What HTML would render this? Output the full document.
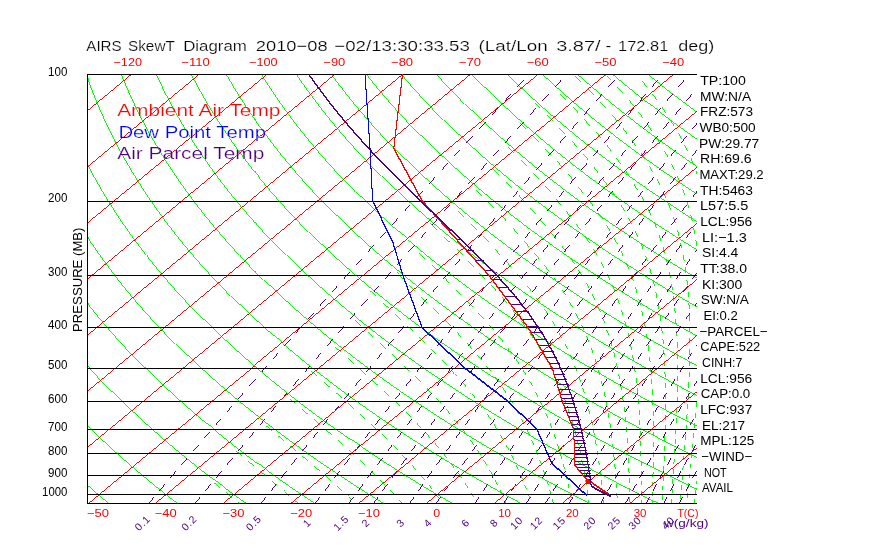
<!DOCTYPE html>
<html><head><meta charset="utf-8"><title>AIRS SkewT Diagram</title>
<style>html,body{margin:0;padding:0;background:#fff;}svg{display:block;will-change:transform;}</style></head>
<body><svg width="870" height="560" viewBox="0 0 870 560">
<defs><clipPath id="clip"><rect x="87" y="74" width="610" height="430"/></clipPath>
<clipPath id="clip2"><rect x="87" y="74" width="610" height="430"/></clipPath></defs>
<g clip-path="url(#clip)" shape-rendering="crispEdges">
<polyline points="108.75,503.5 99.3,495.5 90.09,487.5 81.11,479.5 72.37,471.5 63.85,463.5 55.57,455.5 47.5,447.5 39.66,439.5 32.03,431.5 24.62,423.5 17.43,415.5 10.44,407.5 3.66,399.5 -2.91,391.5 -9.29,383.5 -15.46,375.5 -21.43,367.5 -27.21,359.5 -32.8,351.5 -38.2,343.5 -43.41,335.5 -48.43,327.5 -53.27,319.5 -57.93,311.5 -62.42,303.5 -66.72,295.5 -70.85,287.5 -74.81,279.5 -78.6,271.5 -82.22,263.5 -85.68,255.5 -88.97,247.5 -92.11,239.5 -95.08,231.5 -97.89,223.5 -100.55,215.5 -103.06,207.5 -105.41,199.5 -107.61,191.5 -109.67,183.5 -111.58,175.5 -113.35,167.5 -114.97,159.5 -116.45,151.5 -117.8,143.5 -119,135.5 -120.08,127.5 -121.01,119.5 -121.82,111.5 -122.49,103.5 -123.04,95.5 -123.46,87.5 -123.75,79.5 -123.87,74.5" fill="none" stroke="#00ff00" stroke-width="0.99" />
<polyline points="177.48,503.5 167.17,495.5 157.12,487.5 147.3,479.5 137.74,471.5 128.41,463.5 119.31,455.5 110.46,447.5 101.83,439.5 93.43,431.5 85.25,423.5 77.3,415.5 69.57,407.5 62.05,399.5 54.75,391.5 47.66,383.5 40.78,375.5 34.1,367.5 27.63,359.5 21.36,351.5 15.29,343.5 9.41,335.5 3.73,327.5 -1.76,319.5 -7.07,311.5 -12.18,303.5 -17.11,295.5 -21.86,287.5 -26.43,279.5 -30.83,271.5 -35.04,263.5 -39.09,255.5 -42.96,247.5 -46.67,239.5 -50.21,231.5 -53.58,223.5 -56.79,215.5 -59.84,207.5 -62.73,199.5 -65.47,191.5 -68.05,183.5 -70.48,175.5 -72.76,167.5 -74.89,159.5 -76.87,151.5 -78.71,143.5 -80.4,135.5 -81.95,127.5 -83.37,119.5 -84.64,111.5 -85.78,103.5 -86.78,95.5 -87.65,87.5 -88.39,79.5 -88.79,74.5" fill="none" stroke="#00ff00" stroke-width="0.99" />
<polyline points="246.21,503.5 235.05,495.5 224.14,487.5 213.5,479.5 203.1,471.5 192.96,463.5 183.06,455.5 173.41,447.5 164,439.5 154.82,431.5 145.88,423.5 137.17,415.5 128.7,407.5 120.44,399.5 112.41,391.5 104.6,383.5 97.01,375.5 89.64,367.5 82.47,359.5 75.52,351.5 68.77,343.5 62.23,335.5 55.89,327.5 49.75,319.5 43.8,311.5 38.05,303.5 32.49,295.5 27.13,287.5 21.94,279.5 16.95,271.5 12.14,263.5 7.5,255.5 3.05,247.5 -1.23,239.5 -5.33,231.5 -9.27,223.5 -13.03,215.5 -16.63,207.5 -20.06,199.5 -23.33,191.5 -26.43,183.5 -29.38,175.5 -32.17,167.5 -34.81,159.5 -37.29,151.5 -39.62,143.5 -41.8,135.5 -43.83,127.5 -45.72,119.5 -47.46,111.5 -49.07,103.5 -50.53,95.5 -51.85,87.5 -53.03,79.5 -53.71,74.5" fill="none" stroke="#00ff00" stroke-width="0.99" />
<polyline points="314.94,503.5 302.92,495.5 291.17,487.5 279.69,479.5 268.47,471.5 257.51,463.5 246.81,455.5 236.36,447.5 226.17,439.5 216.22,431.5 206.51,423.5 197.05,415.5 187.82,407.5 178.83,399.5 170.08,391.5 161.55,383.5 153.25,375.5 145.17,367.5 137.31,359.5 129.68,351.5 122.25,343.5 115.04,335.5 108.05,327.5 101.25,319.5 94.67,311.5 88.28,303.5 82.1,295.5 76.11,287.5 70.32,279.5 64.72,271.5 59.32,263.5 54.1,255.5 49.06,247.5 44.21,239.5 39.54,231.5 35.05,223.5 30.73,215.5 26.59,207.5 22.62,199.5 18.82,191.5 15.19,183.5 11.72,175.5 8.42,167.5 5.28,159.5 2.3,151.5 -0.53,143.5 -3.2,135.5 -5.71,127.5 -8.07,119.5 -10.29,111.5 -12.35,103.5 -14.27,95.5 -16.04,87.5 -17.68,79.5 -18.62,74.5" fill="none" stroke="#00ff00" stroke-width="0.99" />
<polyline points="383.67,503.5 370.79,495.5 358.2,487.5 345.88,479.5 333.84,471.5 322.07,463.5 310.56,455.5 299.32,447.5 288.34,439.5 277.61,431.5 267.14,423.5 256.92,415.5 246.95,407.5 237.22,399.5 227.74,391.5 218.49,383.5 209.48,375.5 200.7,367.5 192.16,359.5 183.83,351.5 175.74,343.5 167.86,335.5 160.2,327.5 152.76,319.5 145.53,311.5 138.52,303.5 131.71,295.5 125.1,287.5 118.7,279.5 112.5,271.5 106.5,263.5 100.69,255.5 95.07,247.5 89.65,239.5 84.41,231.5 79.36,223.5 74.49,215.5 69.8,207.5 65.29,199.5 60.96,191.5 56.81,183.5 52.82,175.5 49.01,167.5 45.36,159.5 41.88,151.5 38.56,143.5 35.41,135.5 32.41,127.5 29.57,119.5 26.89,111.5 24.36,103.5 21.99,95.5 19.76,87.5 17.68,79.5 16.46,74.5" fill="none" stroke="#00ff00" stroke-width="0.99" />
<polyline points="452.4,503.5 438.67,495.5 425.23,487.5 412.07,479.5 399.21,471.5 386.62,463.5 374.31,455.5 362.27,447.5 350.51,439.5 339.01,431.5 327.77,423.5 316.8,415.5 306.08,407.5 295.61,399.5 285.4,391.5 275.44,383.5 265.72,375.5 256.24,367.5 247,359.5 237.99,351.5 229.22,343.5 220.68,335.5 212.36,327.5 204.27,319.5 196.4,311.5 188.75,303.5 181.31,295.5 174.09,287.5 167.08,279.5 160.28,271.5 153.68,263.5 147.28,255.5 141.08,247.5 135.08,239.5 129.28,231.5 123.67,223.5 118.25,215.5 113.02,207.5 107.97,199.5 103.11,191.5 98.43,183.5 93.92,175.5 89.59,167.5 85.44,159.5 81.46,151.5 77.65,143.5 74.01,135.5 70.53,127.5 67.22,119.5 64.07,111.5 61.08,103.5 58.24,95.5 55.57,87.5 53.04,79.5 51.54,74.5" fill="none" stroke="#00ff00" stroke-width="0.99" />
<polyline points="521.13,503.5 506.54,495.5 492.25,487.5 478.27,479.5 464.57,471.5 451.17,463.5 438.06,455.5 425.23,447.5 412.67,439.5 400.4,431.5 388.4,423.5 376.67,415.5 365.21,407.5 354.01,399.5 343.07,391.5 332.38,383.5 321.95,375.5 311.77,367.5 301.84,359.5 292.15,351.5 282.7,343.5 273.5,335.5 264.52,327.5 255.78,319.5 247.27,311.5 238.98,303.5 230.92,295.5 223.08,287.5 215.46,279.5 208.05,271.5 200.86,263.5 193.87,255.5 187.09,247.5 180.52,239.5 174.15,231.5 167.98,223.5 162.01,215.5 156.23,207.5 150.65,199.5 145.25,191.5 140.04,183.5 135.02,175.5 130.18,167.5 125.52,159.5 121.04,151.5 116.74,143.5 112.61,135.5 108.65,127.5 104.87,119.5 101.25,111.5 97.79,103.5 94.5,95.5 91.37,87.5 88.4,79.5 86.62,74.5" fill="none" stroke="#00ff00" stroke-width="0.99" />
<polyline points="589.86,503.5 574.42,495.5 559.28,487.5 544.46,479.5 529.94,471.5 515.72,463.5 501.8,455.5 488.18,447.5 474.84,439.5 461.8,431.5 449.03,423.5 436.54,415.5 424.33,407.5 412.4,399.5 400.73,391.5 389.33,383.5 378.19,375.5 367.31,367.5 356.68,359.5 346.31,351.5 336.19,343.5 326.31,335.5 316.68,327.5 307.29,319.5 298.14,311.5 289.22,303.5 280.53,295.5 272.07,287.5 263.84,279.5 255.83,271.5 248.04,263.5 240.46,255.5 233.11,247.5 225.96,239.5 219.02,231.5 212.3,223.5 205.77,215.5 199.45,207.5 193.32,199.5 187.4,191.5 181.66,183.5 176.12,175.5 170.77,167.5 165.61,159.5 160.63,151.5 155.83,143.5 151.21,135.5 146.78,127.5 142.51,119.5 138.42,111.5 134.5,103.5 130.76,95.5 127.17,87.5 123.76,79.5 121.71,74.5" fill="none" stroke="#00ff00" stroke-width="0.99" />
<polyline points="658.59,503.5 642.29,495.5 626.31,487.5 610.65,479.5 595.31,471.5 580.28,463.5 565.55,455.5 551.13,447.5 537.01,439.5 523.19,431.5 509.66,423.5 496.42,415.5 483.46,407.5 470.79,399.5 458.39,391.5 446.27,383.5 434.42,375.5 422.84,367.5 411.52,359.5 400.47,351.5 389.67,343.5 379.13,335.5 368.84,327.5 358.8,319.5 349,311.5 339.45,303.5 330.14,295.5 321.06,287.5 312.21,279.5 303.6,271.5 295.22,263.5 287.06,255.5 279.12,247.5 271.4,239.5 263.9,231.5 256.61,223.5 249.53,215.5 242.66,207.5 236,199.5 229.54,191.5 223.28,183.5 217.22,175.5 211.36,167.5 205.69,159.5 200.21,151.5 194.92,143.5 189.82,135.5 184.9,127.5 180.16,119.5 175.6,111.5 171.22,103.5 167.01,95.5 162.98,87.5 159.12,79.5 156.79,74.5" fill="none" stroke="#00ff00" stroke-width="0.99" />
<polyline points="727.32,503.5 710.16,495.5 693.34,487.5 676.84,479.5 660.68,471.5 644.83,463.5 629.3,455.5 614.09,447.5 599.18,439.5 584.58,431.5 570.29,423.5 556.29,415.5 542.59,407.5 529.18,399.5 516.06,391.5 503.22,383.5 490.66,375.5 478.37,367.5 466.37,359.5 454.63,351.5 443.16,343.5 431.95,335.5 421,327.5 410.31,319.5 399.87,311.5 389.68,303.5 379.74,295.5 370.05,287.5 360.59,279.5 351.38,271.5 342.4,263.5 333.65,255.5 325.13,247.5 316.84,239.5 308.77,231.5 300.92,223.5 293.29,215.5 285.88,207.5 278.68,199.5 271.69,191.5 264.9,183.5 258.32,175.5 251.95,167.5 245.77,159.5 239.79,151.5 234.01,143.5 228.42,135.5 223.02,127.5 217.81,119.5 212.78,111.5 207.93,103.5 203.27,95.5 198.78,87.5 194.47,79.5 191.87,74.5" fill="none" stroke="#00ff00" stroke-width="0.99" />
<polyline points="796.05,503.5 778.04,495.5 760.37,487.5 743.04,479.5 726.04,471.5 709.38,463.5 693.05,455.5 677.04,447.5 661.35,439.5 645.98,431.5 630.92,423.5 616.17,415.5 601.72,407.5 587.57,399.5 573.72,391.5 560.16,383.5 546.89,375.5 533.91,367.5 521.21,359.5 508.79,351.5 496.64,343.5 484.76,335.5 473.16,327.5 461.82,319.5 450.74,311.5 439.92,303.5 429.35,295.5 419.04,287.5 408.97,279.5 399.15,271.5 389.58,263.5 380.24,255.5 371.14,247.5 362.27,239.5 353.64,231.5 345.23,223.5 337.05,215.5 329.09,207.5 321.35,199.5 313.83,191.5 306.52,183.5 299.43,175.5 292.54,167.5 285.86,159.5 279.38,151.5 273.1,143.5 267.02,135.5 261.14,127.5 255.45,119.5 249.95,111.5 244.65,103.5 239.53,95.5 234.59,87.5 229.83,79.5 226.95,74.5" fill="none" stroke="#00ff00" stroke-width="0.99" />
<polyline points="864.78,503.5 845.91,495.5 827.39,487.5 809.23,479.5 791.41,471.5 773.94,463.5 756.8,455.5 740,447.5 723.52,439.5 707.37,431.5 691.55,423.5 676.04,415.5 660.85,407.5 645.96,399.5 631.38,391.5 617.11,383.5 603.13,375.5 589.44,367.5 576.05,359.5 562.94,351.5 550.12,343.5 537.58,335.5 525.32,327.5 513.33,319.5 501.6,311.5 490.15,303.5 478.96,295.5 468.02,287.5 457.35,279.5 446.93,271.5 436.76,263.5 426.83,255.5 417.15,247.5 407.71,239.5 398.51,231.5 389.55,223.5 380.81,215.5 372.31,207.5 364.03,199.5 355.97,191.5 348.14,183.5 340.53,175.5 333.13,167.5 325.94,159.5 318.96,151.5 312.19,143.5 305.62,135.5 299.26,127.5 293.1,119.5 287.13,111.5 281.36,103.5 275.78,95.5 270.39,87.5 265.19,79.5 262.03,74.5" fill="none" stroke="#00ff00" stroke-width="0.99" />
<polyline points="933.51,503.5 913.78,495.5 894.42,487.5 875.42,479.5 856.78,471.5 838.49,463.5 820.55,455.5 802.95,447.5 785.69,439.5 768.77,431.5 752.18,423.5 735.91,415.5 719.97,407.5 704.35,399.5 689.05,391.5 674.05,383.5 659.36,375.5 644.98,367.5 630.89,359.5 617.1,351.5 603.61,343.5 590.4,335.5 577.48,327.5 564.83,319.5 552.47,311.5 540.38,303.5 528.56,295.5 517.01,287.5 505.73,279.5 494.7,271.5 483.94,263.5 473.42,255.5 463.16,247.5 453.15,239.5 443.38,231.5 433.86,223.5 424.57,215.5 415.52,207.5 406.71,199.5 398.12,191.5 389.76,183.5 381.63,175.5 373.71,167.5 366.02,159.5 358.54,151.5 351.28,143.5 344.23,135.5 337.38,127.5 330.74,119.5 324.31,111.5 318.07,103.5 312.04,95.5 306.2,87.5 300.55,79.5 297.12,74.5" fill="none" stroke="#00ff00" stroke-width="0.99" />
<polyline points="1002.24,503.5 981.66,495.5 961.45,487.5 941.61,479.5 922.15,471.5 903.04,463.5 884.3,455.5 865.9,447.5 847.86,439.5 830.16,431.5 812.81,423.5 795.79,415.5 779.1,407.5 762.74,399.5 746.71,391.5 730.99,383.5 715.6,375.5 700.51,367.5 685.73,359.5 671.26,351.5 657.09,343.5 643.22,335.5 629.63,327.5 616.34,319.5 603.34,311.5 590.61,303.5 578.17,295.5 566,287.5 554.11,279.5 542.48,271.5 531.12,263.5 520.02,255.5 509.17,247.5 498.59,239.5 488.26,231.5 478.17,223.5 468.33,215.5 458.74,207.5 449.38,199.5 440.26,191.5 431.38,183.5 422.73,175.5 414.3,167.5 406.1,159.5 398.13,151.5 390.37,143.5 382.83,135.5 375.5,127.5 368.39,119.5 361.49,111.5 354.79,103.5 348.29,95.5 342,87.5 335.91,79.5 332.2,74.5" fill="none" stroke="#00ff00" stroke-width="0.99" />
<polyline points="1070.97,503.5 1049.53,495.5 1028.48,487.5 1007.81,479.5 987.51,471.5 967.59,463.5 948.04,455.5 928.86,447.5 910.03,439.5 891.56,431.5 873.44,423.5 855.66,415.5 838.23,407.5 821.13,399.5 804.37,391.5 787.94,383.5 771.83,375.5 756.05,367.5 740.58,359.5 725.42,351.5 710.57,343.5 696.03,335.5 681.79,327.5 667.85,319.5 654.2,311.5 640.85,303.5 627.78,295.5 614.99,287.5 602.48,279.5 590.25,271.5 578.3,263.5 566.61,255.5 555.19,247.5 544.03,239.5 533.13,231.5 522.48,223.5 512.09,215.5 501.95,207.5 492.06,199.5 482.41,191.5 473,183.5 463.83,175.5 454.89,167.5 446.19,159.5 437.71,151.5 429.46,143.5 421.43,135.5 413.63,127.5 406.04,119.5 398.66,111.5 391.5,103.5 384.55,95.5 377.81,87.5 371.27,79.5 367.28,74.5" fill="none" stroke="#00ff00" stroke-width="0.99" />
<polyline points="1139.7,503.5 1117.4,495.5 1095.51,487.5 1074,479.5 1052.88,471.5 1032.15,463.5 1011.79,455.5 991.81,447.5 972.2,439.5 952.95,431.5 934.07,423.5 915.54,415.5 897.36,407.5 879.52,399.5 862.03,391.5 844.88,383.5 828.07,375.5 811.58,367.5 795.42,359.5 779.58,351.5 764.06,343.5 748.85,335.5 733.95,327.5 719.36,319.5 705.07,311.5 691.08,303.5 677.39,295.5 663.98,287.5 650.86,279.5 638.03,271.5 625.48,263.5 613.2,255.5 601.2,247.5 589.46,239.5 578,231.5 566.8,223.5 555.85,215.5 545.17,207.5 534.73,199.5 524.55,191.5 514.62,183.5 504.93,175.5 495.48,167.5 486.27,159.5 477.29,151.5 468.55,143.5 460.04,135.5 451.75,127.5 443.68,119.5 435.84,111.5 428.22,103.5 420.81,95.5 413.61,87.5 406.62,79.5 402.36,74.5" fill="none" stroke="#00ff00" stroke-width="0.99" />
<polyline points="1208.43,503.5 1185.28,495.5 1162.53,487.5 1140.19,479.5 1118.25,471.5 1096.7,463.5 1075.54,455.5 1054.77,447.5 1034.37,439.5 1014.35,431.5 994.7,423.5 975.41,415.5 956.48,407.5 937.92,399.5 919.7,391.5 901.83,383.5 884.3,375.5 867.11,367.5 850.26,359.5 833.74,351.5 817.54,343.5 801.67,335.5 786.11,327.5 770.87,319.5 755.94,311.5 741.31,303.5 726.99,295.5 712.97,287.5 699.24,279.5 685.8,271.5 672.66,263.5 659.79,255.5 647.21,247.5 634.9,239.5 622.87,231.5 611.11,223.5 599.61,215.5 588.38,207.5 577.41,199.5 566.7,191.5 556.24,183.5 546.03,175.5 536.07,167.5 526.35,159.5 516.88,151.5 507.64,143.5 498.64,135.5 489.87,127.5 481.33,119.5 473.02,111.5 464.93,103.5 457.06,95.5 449.42,87.5 441.98,79.5 437.45,74.5" fill="none" stroke="#00ff00" stroke-width="0.99" />
<polyline points="1277.16,503.5 1253.15,495.5 1229.56,487.5 1206.38,479.5 1183.62,471.5 1161.25,463.5 1139.29,455.5 1117.72,447.5 1096.54,439.5 1075.74,431.5 1055.33,423.5 1035.28,415.5 1015.61,407.5 996.31,399.5 977.36,391.5 958.77,383.5 940.54,375.5 922.65,367.5 905.1,359.5 887.9,351.5 871.03,343.5 854.48,335.5 838.27,327.5 822.38,319.5 806.81,311.5 791.55,303.5 776.6,295.5 761.96,287.5 747.62,279.5 733.58,271.5 719.84,263.5 706.38,255.5 693.22,247.5 680.34,239.5 667.74,231.5 655.42,223.5 643.37,215.5 631.6,207.5 620.09,199.5 608.84,191.5 597.86,183.5 587.13,175.5 576.66,167.5 566.43,159.5 556.46,151.5 546.73,143.5 537.24,135.5 527.99,127.5 518.98,119.5 510.2,111.5 501.64,103.5 493.32,95.5 485.22,87.5 477.34,79.5 472.53,74.5" fill="none" stroke="#00ff00" stroke-width="0.99" />
<polyline points="1345.89,503.5 1321.03,495.5 1296.59,487.5 1272.58,479.5 1248.98,471.5 1225.81,463.5 1203.04,455.5 1180.67,447.5 1158.71,439.5 1137.14,431.5 1115.96,423.5 1095.16,415.5 1074.74,407.5 1054.7,399.5 1035.02,391.5 1015.72,383.5 996.77,375.5 978.18,367.5 959.94,359.5 942.06,351.5 924.51,343.5 907.3,335.5 890.43,327.5 873.89,319.5 857.67,311.5 841.78,303.5 826.21,295.5 810.95,287.5 796,279.5 781.36,271.5 767.02,263.5 752.98,255.5 739.23,247.5 725.78,239.5 712.61,231.5 699.73,223.5 687.13,215.5 674.81,207.5 662.76,199.5 650.99,191.5 639.48,183.5 628.23,175.5 617.24,167.5 606.52,159.5 596.04,151.5 585.82,143.5 575.84,135.5 566.11,127.5 556.62,119.5 547.37,111.5 538.36,103.5 529.58,95.5 521.03,87.5 512.7,79.5 507.61,74.5" fill="none" stroke="#00ff00" stroke-width="0.99" />
<polyline points="1414.62,503.5 1388.9,495.5 1363.62,487.5 1338.77,479.5 1314.35,471.5 1290.36,463.5 1266.79,455.5 1243.63,447.5 1220.88,439.5 1198.53,431.5 1176.59,423.5 1155.03,415.5 1133.87,407.5 1113.09,399.5 1092.69,391.5 1072.66,383.5 1053.01,375.5 1033.72,367.5 1014.79,359.5 996.21,351.5 977.99,343.5 960.12,335.5 942.59,327.5 925.4,319.5 908.54,311.5 892.01,303.5 875.81,295.5 859.94,287.5 844.38,279.5 829.13,271.5 814.2,263.5 799.57,255.5 785.24,247.5 771.22,239.5 757.49,231.5 744.05,223.5 730.89,215.5 718.03,207.5 705.44,199.5 693.13,191.5 681.1,183.5 669.33,175.5 657.83,167.5 646.6,159.5 635.62,151.5 624.91,143.5 614.45,135.5 604.23,127.5 594.27,119.5 584.55,111.5 575.07,103.5 565.83,95.5 556.83,87.5 548.06,79.5 542.69,74.5" fill="none" stroke="#00ff00" stroke-width="0.99" />
<polyline points="1483.35,503.5 1456.77,495.5 1430.64,487.5 1404.96,479.5 1379.72,471.5 1354.91,463.5 1330.53,455.5 1306.58,447.5 1283.05,439.5 1259.93,431.5 1237.21,423.5 1214.91,415.5 1193,407.5 1171.48,399.5 1150.35,391.5 1129.61,383.5 1109.24,375.5 1089.25,367.5 1069.63,359.5 1050.37,351.5 1031.48,343.5 1012.94,335.5 994.75,327.5 976.91,319.5 959.41,311.5 942.25,303.5 925.42,295.5 908.92,287.5 892.75,279.5 876.91,271.5 861.38,263.5 846.16,255.5 831.25,247.5 816.65,239.5 802.36,231.5 788.36,223.5 774.65,215.5 761.24,207.5 748.12,199.5 735.28,191.5 722.72,183.5 710.43,175.5 698.42,167.5 686.68,159.5 675.21,151.5 664,143.5 653.05,135.5 642.36,127.5 631.92,119.5 621.73,111.5 611.79,103.5 602.09,95.5 592.63,87.5 583.42,79.5 577.78,74.5" fill="none" stroke="#00ff00" stroke-width="0.99" />
<polyline points="1552.08,503.5 1524.65,495.5 1497.67,487.5 1471.15,479.5 1445.09,471.5 1419.47,463.5 1394.28,455.5 1369.54,447.5 1345.22,439.5 1321.32,431.5 1297.84,423.5 1274.78,415.5 1252.12,407.5 1229.87,399.5 1208.01,391.5 1186.55,383.5 1165.48,375.5 1144.78,367.5 1124.47,359.5 1104.53,351.5 1084.96,343.5 1065.75,335.5 1046.91,327.5 1028.41,319.5 1010.27,311.5 992.48,303.5 975.03,295.5 957.91,287.5 941.13,279.5 924.68,271.5 908.56,263.5 892.75,255.5 877.27,247.5 862.09,239.5 847.23,231.5 832.67,223.5 818.41,215.5 804.46,207.5 790.79,199.5 777.42,191.5 764.33,183.5 751.53,175.5 739.01,167.5 726.76,159.5 714.79,151.5 703.09,143.5 691.65,135.5 680.48,127.5 669.56,119.5 658.91,111.5 648.5,103.5 638.35,95.5 628.44,87.5 618.78,79.5 612.86,74.5" fill="none" stroke="#00ff00" stroke-width="0.99" />
<polyline points="1620.81,503.5 1592.52,495.5 1564.7,487.5 1537.35,479.5 1510.45,471.5 1484.02,463.5 1458.03,455.5 1432.49,447.5 1407.39,439.5 1382.72,431.5 1358.47,423.5 1334.65,415.5 1311.25,407.5 1288.26,399.5 1265.68,391.5 1243.5,383.5 1221.71,375.5 1200.32,367.5 1179.31,359.5 1158.69,351.5 1138.44,343.5 1118.57,335.5 1099.07,327.5 1079.92,319.5 1061.14,311.5 1042.71,303.5 1024.63,295.5 1006.9,287.5 989.51,279.5 972.46,271.5 955.74,263.5 939.34,255.5 923.28,247.5 907.53,239.5 892.1,231.5 876.98,223.5 862.18,215.5 847.67,207.5 833.47,199.5 819.56,191.5 805.95,183.5 792.63,175.5 779.6,167.5 766.85,159.5 754.37,151.5 742.18,143.5 730.25,135.5 718.6,127.5 707.21,119.5 696.08,111.5 685.21,103.5 674.6,95.5 664.24,87.5 654.13,79.5 647.94,74.5" fill="none" stroke="#00ff00" stroke-width="0.99" />
<path d="M239.52 503.5 L238.95 503.04 L238.37 502.57 L237.8 502.1 M231.53 497.02 L229.66 495.5 L227.8 493.99 L225.94 492.48 M219.63 487.34 L217.76 485.81 L215.89 484.29 L214.03 482.76 M298.29 503.5 L297.11 502.48 L295.94 501.46 L294.76 500.45 M288.82 495.35 L287.05 493.83 L285.27 492.32 L283.5 490.81 M277.42 485.66 L275.61 484.13 L273.79 482.6 L271.98 481.07 M265.79 475.87 L263.95 474.32 L262.11 472.78 L260.27 471.23 M254 465.98 L252.14 464.41 L250.28 462.85 L248.42 461.29 M242.1 455.98 L240.23 454.4 L238.36 452.83 L236.49 451.25 M352.36 500.16 L350.75 498.65 L349.13 497.15 L347.5 495.64 M341.9 490.52 L340.21 488.99 L338.52 487.47 L336.82 485.95 M330.99 480.78 L329.24 479.24 L327.49 477.7 L325.73 476.16 M319.69 470.94 L317.88 469.38 L316.07 467.83 L314.26 466.28 M308.05 460.99 L306.2 459.42 L304.34 457.85 L302.48 456.28 M296.14 450.95 L294.25 449.36 L292.36 447.77 L290.47 446.19 M284.03 440.79 L282.11 439.19 L280.2 437.59 L278.29 435.98 M271.78 430.53 L269.85 428.91 L267.93 427.29 L266 425.67 M402.26 503.5 L401.14 502.23 L400.01 500.96 L398.88 499.69 M394.23 494.59 L392.83 493.08 L391.41 491.56 L389.98 490.05 M385.05 484.89 L383.56 483.36 L382.06 481.83 L380.55 480.3 M375.34 475.1 L373.77 473.55 L372.18 472 L370.59 470.46 M365.11 465.2 L363.45 463.63 L361.79 462.07 L360.12 460.51 M354.38 455.19 L352.66 453.61 L350.93 452.04 L349.19 450.46 M343.22 445.09 L341.43 443.49 L339.64 441.89 L337.83 440.3 M331.67 434.87 L329.83 433.26 L327.98 431.64 L326.13 430.03 M319.8 424.54 L317.92 422.91 L316.03 421.28 L314.14 419.65 M307.69 414.11 L305.78 412.46 L303.86 410.81 L301.94 409.16 M295.42 403.55 L293.48 401.89 L291.55 400.22 L289.61 398.55 M439.64 499.05 L438.53 497.55 L437.4 496.04 L436.27 494.53 M432.32 489.4 L431.12 487.88 L429.91 486.35 L428.69 484.83 M424.46 479.65 L423.17 478.11 L421.87 476.57 L420.56 475.03 M416.02 469.8 L414.65 468.24 L413.26 466.69 L411.86 465.13 M407.02 459.84 L405.55 458.27 L404.07 456.7 L402.58 455.13 M397.43 449.78 L395.87 448.2 L394.31 446.61 L392.73 445.02 M387.28 439.62 L385.64 438.01 L383.99 436.41 L382.33 434.8 M376.6 429.34 L374.88 427.72 L373.15 426.1 L371.41 424.48 M365.43 418.96 L363.64 417.32 L361.84 415.68 L360.04 414.04 M353.84 408.46 L351.99 406.8 L350.13 405.14 L348.27 403.48 M341.9 397.84 L340 396.17 L338.09 394.49 L336.19 392.81 M329.68 387.11 L327.75 385.41 L325.81 383.72 L323.87 382.02 M317.28 376.25 L315.32 374.54 L313.37 372.82 L311.41 371.11 M477.22 503.5 L477.03 503.17 L476.85 502.84 L476.66 502.5 M473.71 497.42 L472.81 495.91 L471.91 494.4 L470.99 492.88 M467.8 487.75 L466.83 486.22 L465.84 484.7 L464.85 483.17 M461.39 477.98 L460.34 476.44 L459.27 474.89 L458.2 473.35 M454.45 468.11 L453.32 466.55 L452.16 464.99 L451 463.44 M446.95 458.14 L445.72 456.56 L444.48 454.99 L443.23 453.41 M438.86 448.06 L437.54 446.47 L436.2 444.88 L434.85 443.29 M430.16 437.88 L428.74 436.27 L427.31 434.66 L425.86 433.05 M420.84 427.58 L419.33 425.96 L417.8 424.33 L416.25 422.71 M410.92 417.18 L409.3 415.54 L407.68 413.89 L406.05 412.25 M400.4 406.66 L398.7 405 L396.99 403.34 L395.27 401.68 M389.35 396.03 L387.57 394.35 L385.78 392.67 L383.98 390.99 M377.81 385.27 L375.96 383.57 L374.11 381.87 L372.25 380.17 M365.87 374.39 L363.97 372.68 L362.06 370.96 L360.14 369.24 M353.61 363.39 L351.66 361.65 L349.72 359.92 L347.76 358.18 M341.12 352.26 L339.15 350.5 L337.21 348.75 L335.31 346.99 M506.43 503.5 L505.85 502.19 L505.26 500.87 L504.67 499.55 M502.31 494.45 L501.59 492.94 L500.87 491.42 L500.13 489.91 M497.56 484.75 L496.78 483.22 L495.98 481.69 L495.18 480.16 M492.38 474.95 L491.53 473.41 L490.66 471.86 L489.79 470.31 M486.74 465.05 L485.8 463.49 L484.86 461.93 L483.91 460.36 M480.58 455.05 L479.57 453.47 L478.54 451.89 L477.5 450.31 M473.88 444.94 L472.77 443.34 L471.66 441.75 L470.53 440.15 M466.59 434.72 L465.39 433.11 L464.17 431.5 L462.95 429.88 M458.68 424.39 L457.38 422.76 L456.06 421.13 L454.74 419.5 M450.12 413.96 L448.72 412.31 L447.3 410.66 L445.87 409.01 M440.91 403.4 L439.41 401.73 L437.89 400.07 L436.36 398.4 M431.05 392.73 L429.44 391.04 L427.83 389.36 L426.2 387.67 M420.56 381.94 L418.86 380.23 L417.15 378.53 L415.43 376.82 M409.49 371.02 L407.7 369.3 L405.9 367.57 L404.1 365.85 M397.89 359.98 L396.03 358.24 L394.16 356.49 L392.29 354.75 M385.86 348.81 L383.94 347.05 L382.01 345.28 L380.08 343.52 M373.48 337.51 L371.52 335.73 L369.57 333.94 L367.7 332.15 M361.27 326.08 L359.33 324.27 L357.4 322.46 L355.45 320.65 M529.89 498.78 L529.35 497.27 L528.81 495.76 L528.27 494.25 M526.36 489.12 L525.78 487.6 L525.19 486.08 L524.59 484.55 M522.5 479.37 L521.87 477.83 L521.22 476.29 L520.57 474.75 M518.28 469.51 L517.58 467.96 L516.88 466.4 L516.16 464.85 M513.65 459.56 L512.89 457.99 L512.11 456.41 L511.33 454.84 M508.58 449.5 L507.74 447.91 L506.88 446.32 L506.02 444.73 M503 439.33 L502.08 437.72 L501.15 436.12 L500.2 434.51 M496.89 429.05 L495.88 427.43 L494.86 425.8 L493.82 424.18 M490.2 418.66 L489.09 417.02 L487.97 415.38 L486.84 413.74 M482.88 408.16 L481.67 406.5 L480.45 404.84 L479.21 403.18 M474.9 397.54 L473.58 395.86 L472.25 394.19 L470.91 392.51 M466.23 386.8 L464.81 385.11 L463.37 383.41 L461.92 381.71 M456.87 375.94 L455.34 374.23 L453.79 372.51 L452.23 370.8 M446.82 364.96 L445.18 363.22 L443.53 361.49 L441.86 359.75 M436.11 353.85 L434.37 352.09 L432.62 350.34 L430.86 348.58 M424.79 342.61 L422.97 340.83 L421.13 339.05 L419.29 337.28 M412.95 331.23 L411.05 329.43 L409.14 327.64 L407.22 325.84 M400.67 319.72 L398.76 317.9 L396.91 316.08 L395.06 314.26 M388.64 308.07 L386.71 306.23 L384.77 304.39 L382.82 302.54 M376.13 296.28 L374.14 294.41 L372.13 292.55 L370.13 290.68 M553.27 503.5 L552.91 502.12 L552.55 500.74 L552.19 499.36 M550.81 494.25 L550.39 492.74 L549.96 491.22 L549.53 489.71 M548.02 484.55 L547.56 483.02 L547.09 481.49 L546.61 479.96 M544.95 474.75 L544.44 473.2 L543.93 471.66 L543.4 470.11 M541.57 464.85 L541.01 463.29 L540.45 461.72 L539.87 460.16 M537.85 454.84 L537.23 453.26 L536.61 451.68 L535.97 450.1 M533.74 444.73 L533.06 443.13 L532.37 441.54 L531.67 439.94 M529.21 434.51 L528.45 432.9 L527.69 431.28 L526.91 429.67 M524.2 424.18 L523.36 422.55 L522.52 420.92 L521.66 419.29 M518.66 413.74 L517.74 412.09 L516.81 410.44 L515.86 408.79 M512.55 403.18 L511.53 401.52 L510.51 399.85 L509.46 398.18 M505.81 392.51 L504.7 390.82 L503.57 389.14 L502.42 387.45 M498.41 381.71 L497.19 380.01 L495.95 378.3 L494.69 376.6 M490.3 370.8 L488.97 369.07 L487.61 367.35 L486.24 365.62 M481.47 359.75 L480.01 358.01 L478.54 356.26 L477.06 354.52 M471.89 348.58 L470.32 346.82 L468.74 345.05 L467.14 343.29 M461.59 337.28 L459.91 335.49 L458.22 333.71 L456.51 331.92 M450.61 325.84 L448.82 324.03 L447.03 322.22 L445.22 320.42 M439 314.26 L437.13 312.43 L435.25 310.6 L433.36 308.77 M426.88 302.55 L425.07 300.69 L423.25 298.84 L421.41 296.99 M415.05 290.68 L413.12 288.81 L411.19 286.93 L409.24 285.06 M402.55 278.67 L400.54 276.77 L398.53 274.87 L396.51 272.97 M572.25 503.5 L572.22 503.39 L572.2 503.27 L572.18 503.15 M571.2 498.07 L570.9 496.56 L570.59 495.05 L570.28 493.54 M569.2 488.41 L568.87 486.88 L568.54 485.36 L568.2 483.83 M567 478.65 L566.64 477.11 L566.26 475.56 L565.89 474.02 M564.57 468.78 L564.16 467.23 L563.75 465.67 L563.34 464.11 M561.87 458.82 L561.42 457.25 L560.97 455.67 L560.51 454.1 M558.88 448.75 L558.38 447.16 L557.88 445.57 L557.36 443.98 M555.56 438.57 L555.01 436.97 L554.44 435.36 L553.87 433.75 M551.87 428.29 L551.25 426.66 L550.62 425.04 L549.99 423.41 M547.75 417.89 L547.07 416.25 L546.37 414.61 L545.66 412.96 M543.18 407.38 L542.41 405.72 L541.64 404.06 L540.85 402.4 M538.08 396.75 L537.23 395.07 L536.37 393.39 L535.49 391.72 M532.42 386.01 L531.47 384.31 L530.51 382.61 L529.54 380.91 M526.13 375.14 L525.08 373.42 L524.02 371.7 L522.94 369.99 M519.16 364.14 L518 362.41 L516.83 360.67 L515.64 358.93 M511.47 353.02 L510.19 351.27 L508.9 349.51 L507.59 347.75 M503.02 341.77 L501.62 339.99 L500.21 338.22 L498.78 336.44 M493.79 330.39 L492.27 328.59 L490.73 326.79 L489.18 324.99 M483.78 318.87 L482.14 317.05 L480.49 315.22 L478.82 313.4 M473.03 307.2 L471.28 305.36 L469.51 303.52 L467.73 301.67 M461.59 295.4 L459.73 293.53 L457.87 291.67 L456 289.8 M449.79 283.45 L447.99 281.56 L446.18 279.67 L444.34 277.78 M437.97 271.34 L436.04 269.43 L434.1 267.52 L432.14 265.6 M425.41 259.09 L423.39 257.15 L421.36 255.21 L419.32 253.27 M589.12 503.5 L588.95 502.22 L588.78 500.95 L588.6 499.67 M587.88 494.57 L587.65 493.05 L587.43 491.54 L587.2 490.02 M586.39 484.87 L586.15 483.34 L585.9 481.81 L585.64 480.28 M584.75 475.07 L584.47 473.52 L584.19 471.98 L583.91 470.43 M582.91 465.17 L582.6 463.61 L582.29 462.04 L581.97 460.48 M580.85 455.17 L580.51 453.59 L580.16 452.01 L579.81 450.43 M578.56 445.06 L578.17 443.46 L577.78 441.87 L577.38 440.27 M575.98 434.84 L575.55 433.23 L575.11 431.62 L574.67 430 M573.1 424.52 L572.61 422.89 L572.12 421.26 L571.62 419.63 M569.86 414.08 L569.32 412.43 L568.76 410.78 L568.2 409.13 M566.22 403.53 L565.61 401.86 L564.99 400.19 L564.36 398.53 M562.14 392.86 L561.46 391.17 L560.76 389.49 L560.06 387.8 M557.56 382.07 L556.8 380.36 L556.02 378.66 L555.22 376.95 M552.43 371.15 L551.57 369.43 L550.69 367.7 L549.81 365.98 M546.68 360.11 L545.72 358.37 L544.74 356.62 L543.75 354.88 M540.25 348.95 L539.18 347.18 L538.09 345.42 L536.99 343.65 M533.1 337.65 L531.91 335.86 L530.7 334.07 L529.47 332.29 M525.17 326.21 L523.85 324.41 L522.52 322.6 L521.16 320.79 M516.43 314.64 L514.98 312.81 L513.52 310.98 L512.03 309.15 M506.86 302.93 L505.28 301.08 L503.69 299.22 L502.08 297.37 M496.48 291.07 L494.78 289.19 L493.06 287.32 L491.33 285.44 M485.33 279.06 L483.52 277.16 L481.69 275.27 L479.85 273.37 M473.78 266.9 L472.02 264.98 L470.24 263.06 L468.43 261.14 M462.14 254.59 L460.23 252.64 L458.3 250.69 L456.36 248.75 M449.64 242.11 L447.62 240.14 L445.59 238.17 L443.55 236.19 M436.55 229.47 L434.46 227.47 L432.37 225.47 L430.27 223.47 M603.49 503.5 L603.38 502.29 L603.28 501.08 L603.17 499.87 M602.68 494.77 L602.54 493.25 L602.38 491.74 L602.23 490.22 M601.69 485.07 L601.52 483.54 L601.35 482.01 L601.18 480.48 M600.57 475.28 L600.38 473.73 L600.18 472.18 L599.99 470.64 M599.3 465.38 L599.08 463.82 L598.87 462.25 L598.64 460.69 M597.86 455.38 L597.62 453.8 L597.37 452.22 L597.12 450.64 M596.23 445.27 L595.96 443.68 L595.68 442.08 L595.4 440.48 M594.39 435.06 L594.08 433.45 L593.76 431.83 L593.44 430.22 M592.3 424.73 L591.95 423.1 L591.59 421.47 L591.22 419.84 M589.93 414.3 L589.53 412.65 L589.12 411 L588.71 409.35 M587.24 403.75 L586.79 402.08 L586.33 400.42 L585.86 398.75 M584.19 393.08 L583.68 391.39 L583.16 389.71 L582.62 388.02 M580.74 382.29 L580.15 380.59 L579.56 378.88 L578.96 377.18 M576.82 371.38 L576.16 369.66 L575.49 367.93 L574.8 366.21 M572.39 360.34 L571.64 358.6 L570.88 356.86 L570.11 355.11 M567.38 349.18 L566.53 347.42 L565.68 345.65 L564.8 343.89 M561.72 337.88 L560.77 336.1 L559.81 334.31 L558.83 332.53 M555.37 326.45 L554.3 324.65 L553.22 322.84 L552.12 321.03 M548.24 314.88 L547.05 313.05 L545.84 311.23 L544.62 309.4 M540.31 303.17 L538.98 301.32 L537.64 299.47 L536.28 297.62 M531.51 291.32 L530.05 289.44 L528.58 287.57 L527.08 285.69 M521.85 279.31 L520.26 277.42 L518.65 275.52 L517.02 273.62 M511.35 267.16 L509.62 265.24 L507.88 263.31 L506.13 261.39 M500.04 254.85 L498.3 252.9 L496.64 250.95 L494.95 249.01 M489.01 242.38 L487.19 240.4 L485.35 238.43 L483.49 236.46 M477 229.74 L475.04 227.74 L473.05 225.74 L471.06 223.74 M464.19 216.96 L462.14 214.95 L460.09 212.94 L458.02 210.94 M617.39 503.5 L617.38 503.36 L617.37 503.21 L617.36 503.07 M617.1 497.98 L617.01 496.47 L616.93 494.96 L616.84 493.45 M616.53 488.32 L616.43 486.79 L616.33 485.27 L616.23 483.74 M615.87 478.56 L615.76 477.02 L615.64 475.47 L615.53 473.93 M615.11 468.69 L614.98 467.14 L614.84 465.58 L614.71 464.02 M614.22 458.73 L614.07 457.15 L613.91 455.58 L613.75 454.01 M613.19 448.66 L613.01 447.07 L612.84 445.48 L612.65 443.89 M612 438.48 L611.8 436.87 L611.59 435.27 L611.38 433.66 M610.62 428.19 L610.39 426.57 L610.15 424.94 L609.9 423.32 M609.03 417.79 L608.76 416.15 L608.49 414.51 L608.2 412.87 M607.2 407.28 L606.89 405.62 L606.57 403.96 L606.24 402.3 M605.09 396.65 L604.73 394.98 L604.36 393.3 L603.99 391.62 M602.66 385.91 L602.25 384.21 L601.83 382.51 L601.4 380.81 M599.87 375.04 L599.4 373.32 L598.92 371.6 L598.43 369.89 M596.68 364.04 L596.13 362.31 L595.58 360.57 L595.02 358.83 M593.02 352.92 L592.39 351.16 L591.76 349.41 L591.12 347.65 M588.83 341.67 L588.12 339.89 L587.4 338.11 L586.66 336.33 M584.06 330.28 L583.25 328.48 L582.43 326.68 L581.59 324.88 M578.62 318.76 L577.71 316.94 L576.77 315.12 L575.82 313.3 M572.46 307.1 L571.43 305.25 L570.37 303.41 L569.3 301.57 M565.51 295.29 L564.34 293.42 L563.16 291.56 L561.95 289.69 M557.7 283.34 L556.4 281.45 L555.07 279.56 L553.72 277.67 M549 271.23 L547.55 269.32 L546.08 267.41 L544.59 265.49 M539.38 258.97 L537.78 257.04 L536.17 255.1 L534.54 253.16 M528.86 246.56 L527.13 244.59 L525.38 242.63 L523.62 240.66 M517.88 233.98 L516.2 231.99 L514.49 230 L512.76 228.01 M506.67 221.23 L504.82 219.22 L502.94 217.22 L501.05 215.21 M494.5 208.43 L492.53 206.42 L490.54 204.42 L488.55 202.41 M481.71 195.62 L479.67 193.62 L477.62 191.61 L475.57 189.61 M629.89 501.84 L629.86 500.34 L629.83 498.84 L629.8 497.33 M629.68 492.22 L629.64 490.7 L629.6 489.18 L629.56 487.66 M629.4 482.5 L629.35 480.96 L629.3 479.43 L629.24 477.89 M629.05 472.67 L628.98 471.12 L628.92 469.57 L628.85 468.02 M628.61 462.75 L628.53 461.18 L628.45 459.62 L628.37 458.05 M628.07 452.72 L627.97 451.14 L627.88 449.55 L627.77 447.97 M627.41 442.59 L627.29 440.99 L627.18 439.39 L627.05 437.79 M626.62 432.34 L626.48 430.73 L626.33 429.11 L626.19 427.49 M625.66 421.99 L625.5 420.36 L625.33 418.72 L625.15 417.09 M624.53 411.53 L624.33 409.87 L624.13 408.22 L623.93 406.57 M623.19 400.94 L622.95 399.27 L622.72 397.6 L622.47 395.93 M621.6 390.25 L621.33 388.55 L621.05 386.86 L620.77 385.17 M619.75 379.42 L619.43 377.72 L619.1 376.01 L618.77 374.3 M617.57 368.48 L617.2 366.75 L616.82 365.02 L616.43 363.29 M615.04 357.41 L614.61 355.66 L614.16 353.91 L613.71 352.16 M612.1 346.21 L611.59 344.44 L611.08 342.67 L610.56 340.9 M608.69 334.88 L608.1 333.09 L607.51 331.3 L606.9 329.51 M604.74 323.41 L604.07 321.6 L603.39 319.79 L602.69 317.98 M600.2 311.81 L599.43 309.97 L598.64 308.14 L597.84 306.3 M594.98 300.06 L594.1 298.2 L593.19 296.34 L592.28 294.49 M589.01 288.17 L588 286.28 L586.98 284.4 L585.93 282.52 M582.22 276.12 L581.08 274.22 L579.91 272.31 L578.73 270.41 M574.54 263.93 L573.25 262 L571.94 260.07 L570.61 258.14 M565.92 251.57 L564.48 249.62 L563.02 247.66 L561.54 245.71 M556.33 239.06 L554.74 237.08 L553.13 235.1 L551.5 233.12 M545.8 226.38 L544.06 224.37 L542.31 222.37 L540.7 220.36 M535.18 213.58 L533.49 211.57 L531.77 209.57 L530.02 207.56 M523.92 200.78 L522.07 198.77 L520.2 196.76 L518.31 194.76 M511.78 187.97 L509.82 185.97 L507.85 183.96 L505.86 181.96 M499.06 175.17 L497.03 173.16 L495 171.16 L492.96 169.15 M641.18 503.5 L641.19 502.4 L641.19 501.29 L641.2 500.19 M641.23 495.09 L641.24 493.57 L641.24 492.06 L641.25 490.54 M641.26 485.39 L641.26 483.86 L641.25 482.33 L641.25 480.8 M641.23 475.6 L641.22 474.06 L641.21 472.51 L641.2 470.96 M641.15 465.71 L641.13 464.15 L641.11 462.58 L641.09 461.02 M640.99 455.71 L640.96 454.13 L640.93 452.55 L640.89 450.98 M640.75 445.61 L640.71 444.01 L640.66 442.42 L640.61 440.82 M640.41 435.4 L640.35 433.79 L640.28 432.17 L640.22 430.56 M639.96 425.08 L639.88 423.45 L639.79 421.82 L639.7 420.19 M639.37 414.65 L639.26 413 L639.15 411.35 L639.04 409.7 M638.62 404.1 L638.49 402.43 L638.35 400.77 L638.21 399.1 M637.69 393.43 L637.53 391.75 L637.36 390.07 L637.18 388.38 M636.55 382.65 L636.35 380.95 L636.15 379.24 L635.93 377.54 M635.17 371.74 L634.93 370.02 L634.68 368.3 L634.43 366.57 M633.51 360.71 L633.22 358.97 L632.92 357.23 L632.62 355.48 M631.53 349.55 L631.19 347.79 L630.83 346.02 L630.47 344.26 M629.18 338.26 L628.77 336.47 L628.36 334.69 L627.93 332.91 M626.41 326.83 L625.93 325.03 L625.44 323.22 L624.94 321.41 M623.16 315.27 L622.6 313.44 L622.03 311.61 L621.44 309.78 M619.35 303.56 L618.7 301.71 L618.04 299.86 L617.36 298.01 M614.93 291.71 L614.17 289.84 L613.4 287.97 L612.61 286.09 M609.8 279.71 L608.92 277.82 L608.03 275.92 L607.12 274.02 M603.88 267.56 L602.88 265.64 L601.85 263.72 L600.81 261.8 M597.1 255.26 L595.96 253.31 L594.79 251.36 L593.6 249.42 M589.39 242.79 L588.09 240.82 L586.76 238.85 L585.42 236.87 M580.68 230.16 L579.22 228.16 L577.74 226.16 L576.24 224.17 M570.97 217.38 L569.37 215.37 L567.75 213.37 L566.1 211.36 M560.58 204.58 L559.05 202.57 L557.48 200.57 L555.89 198.56 M550.3 191.77 L548.58 189.77 L546.84 187.76 L545.08 185.76 M538.94 178.97 L537.07 176.97 L535.19 174.96 L533.3 172.96 M526.76 166.17 L524.8 164.16 L522.82 162.16 L520.84 160.15 M514.06 153.37 L512.04 151.36 L510.01 149.36 L507.99 147.35 M652.22 503.5 L652.25 502.71 L652.27 501.93 L652.3 501.14 M652.45 496.05 L652.49 494.53 L652.54 493.02 L652.58 491.51 M652.72 486.36 L652.76 484.83 L652.8 483.31 L652.84 481.78 M652.96 476.58 L652.99 475.03 L653.02 473.49 L653.06 471.95 M653.16 466.7 L653.18 465.14 L653.21 463.57 L653.23 462.01 M653.3 456.71 L653.32 455.13 L653.34 453.56 L653.35 451.98 M653.39 446.62 L653.4 445.02 L653.41 443.43 L653.41 441.84 M653.41 436.42 L653.41 434.81 L653.4 433.2 L653.39 431.59 M653.34 426.11 L653.32 424.48 L653.3 422.85 L653.27 421.23 M653.17 415.69 L653.13 414.04 L653.09 412.4 L653.05 410.75 M652.88 405.15 L652.82 403.49 L652.76 401.82 L652.69 400.16 M652.45 394.5 L652.37 392.82 L652.28 391.14 L652.19 389.45 M651.85 383.73 L651.74 382.03 L651.63 380.33 L651.51 378.62 M651.07 372.83 L650.93 371.11 L650.78 369.39 L650.63 367.67 M650.07 361.81 L649.89 360.07 L649.7 358.33 L649.51 356.59 M648.81 350.67 L648.59 348.91 L648.36 347.14 L648.12 345.38 M647.26 339.39 L646.98 337.61 L646.7 335.82 L646.41 334.04 M645.36 327.97 L645.03 326.17 L644.69 324.37 L644.34 322.56 M643.08 316.42 L642.68 314.6 L642.27 312.77 L641.85 310.95 M640.34 304.73 L639.87 302.88 L639.38 301.04 L638.88 299.19 M637.09 292.9 L636.53 291.03 L635.95 289.15 L635.36 287.28 M633.25 280.91 L632.59 279.02 L631.91 277.12 L631.21 275.23 M628.73 268.78 L627.95 266.86 L627.16 264.94 L626.35 263.02 M623.45 256.49 L622.55 254.54 L621.62 252.6 L620.68 250.66 M617.32 244.04 L616.27 242.07 L615.21 240.1 L614.12 238.13 M610.25 231.42 L609.05 229.43 L607.83 227.43 L606.59 225.44 M602.18 218.65 L600.83 216.65 L599.46 214.64 L598.06 212.64 M593.16 205.85 L591.67 203.84 L590.15 201.84 L588.61 199.83 M583.24 193.05 L581.61 191.04 L580.12 189.04 L578.63 187.03 M573.36 180.25 L571.74 178.24 L570.09 176.23 L568.42 174.23 M562.56 167.44 L560.78 165.44 L558.97 163.43 L557.14 161.43 M550.83 154.64 L548.92 152.63 L547 150.63 L545.07 148.62 M538.43 141.84 L536.45 139.83 L534.46 137.83 L532.46 135.82 M525.67 129.04 L523.65 127.03 L521.63 125.02 L519.61 123.02 M662.3 499.93 L662.38 498.43 L662.45 496.92 L662.53 495.41 M662.78 490.29 L662.86 488.77 L662.93 487.24 L663 485.72 M663.25 480.55 L663.32 479.01 L663.39 477.47 L663.46 475.93 M663.69 470.7 L663.76 469.15 L663.83 467.6 L663.89 466.04 M664.11 460.76 L664.17 459.19 L664.24 457.62 L664.3 456.05 M664.49 450.71 L664.55 449.12 L664.6 447.54 L664.65 445.95 M664.83 440.55 L664.87 438.95 L664.92 437.35 L664.96 435.74 M665.1 430.29 L665.14 428.67 L665.17 427.05 L665.21 425.43 M665.31 419.91 L665.33 418.28 L665.35 416.64 L665.37 415 M665.43 409.43 L665.44 407.77 L665.45 406.11 L665.45 404.46 M665.45 398.82 L665.44 397.15 L665.43 395.47 L665.42 393.8 M665.35 388.1 L665.32 386.4 L665.29 384.71 L665.26 383.02 M665.11 377.25 L665.06 375.54 L665.01 373.83 L664.95 372.11 M664.71 366.28 L664.63 364.55 L664.55 362.82 L664.46 361.08 M664.12 355.19 L664.01 353.44 L663.89 351.68 L663.77 349.93 M663.3 343.96 L663.15 342.19 L663 340.42 L662.83 338.64 M662.23 332.6 L662.04 330.81 L661.83 329.01 L661.63 327.22 M660.86 321.11 L660.61 319.29 L660.36 317.48 L660.09 315.66 M659.14 309.48 L658.83 307.64 L658.52 305.8 L658.19 303.96 M657.01 297.7 L656.64 295.84 L656.25 293.98 L655.85 292.11 M654.42 285.78 L653.96 283.89 L653.5 282.01 L653.02 280.12 M651.29 273.7 L650.74 271.79 L650.19 269.88 L649.61 267.97 M647.54 261.47 L646.89 259.54 L646.23 257.61 L645.55 255.67 M643.09 249.09 L642.32 247.13 L641.54 245.17 L640.73 243.21 M637.84 236.54 L636.94 234.56 L636.01 232.57 L635.07 230.59 M631.69 223.83 L630.64 221.82 L629.57 219.82 L628.48 217.81 M624.6 211.03 L623.41 209.02 L622.19 207.01 L620.95 205.01 M616.58 198.22 L615.23 196.22 L613.87 194.21 L612.47 192.21 M607.6 185.42 L606.11 183.41 L604.6 181.41 L603.07 179.4 M597.97 172.62 L596.51 170.61 L595.02 168.61 L593.5 166.6 M588.14 159.81 L586.5 157.81 L584.83 155.8 L583.13 153.8 M577.22 147.01 L575.42 145.01 L573.6 143 L571.76 141 M565.42 134.21 L563.51 132.2 L561.59 130.2 L559.66 128.19 M553.03 121.41 L551.05 119.4 L549.07 117.4 L547.08 115.39 M540.32 108.6 L538.31 106.6 L536.31 104.59 L534.3 102.59 M671.3 503 L671.41 501.5 L671.51 500 L671.61 498.5 M671.96 493.39 L672.06 491.87 L672.16 490.35 L672.27 488.84 M672.61 483.68 L672.72 482.14 L672.82 480.61 L672.92 479.08 M673.26 473.87 L673.36 472.32 L673.46 470.77 L673.56 469.22 M673.9 463.95 L674 462.39 L674.09 460.82 L674.19 459.26 M674.51 453.94 L674.61 452.36 L674.7 450.78 L674.79 449.2 M675.1 443.82 L675.19 442.22 L675.28 440.62 L675.37 439.02 M675.66 433.59 L675.74 431.97 L675.82 430.36 L675.9 428.74 M676.16 423.25 L676.24 421.62 L676.31 419.98 L676.38 418.35 M676.61 412.8 L676.68 411.15 L676.74 409.5 L676.8 407.84 M677 402.23 L677.05 400.56 L677.1 398.89 L677.15 397.22 M677.29 391.54 L677.33 389.86 L677.36 388.17 L677.4 386.48 M677.49 380.74 L677.51 379.03 L677.52 377.33 L677.54 375.62 M677.56 369.81 L677.56 368.08 L677.55 366.36 L677.55 364.63 M677.49 358.76 L677.46 357.01 L677.43 355.26 L677.4 353.52 M677.25 347.57 L677.2 345.81 L677.14 344.04 L677.08 342.27 M676.82 336.26 L676.73 334.47 L676.64 332.68 L676.54 330.89 M676.15 324.81 L676.03 323 L675.89 321.19 L675.75 319.38 M675.22 313.22 L675.05 311.39 L674.87 309.55 L674.68 307.72 M673.98 301.49 L673.75 299.63 L673.51 297.78 L673.27 295.92 M672.36 289.61 L672.07 287.73 L671.77 285.86 L671.46 283.98 M670.33 277.59 L669.96 275.68 L669.59 273.78 L669.2 271.88 M667.8 265.41 L667.35 263.48 L666.89 261.56 L666.42 259.63 M664.7 253.07 L664.16 251.12 L663.6 249.17 L663.02 247.22 M660.95 240.58 L660.29 238.6 L659.62 236.63 L658.93 234.65 M656.44 227.92 L655.65 225.92 L654.85 223.91 L654.03 221.91 M651.09 215.13 L650.17 213.12 L649.24 211.11 L648.28 209.11 M644.87 202.32 L643.82 200.32 L642.74 198.31 L641.63 196.31 M637.73 189.52 L636.53 187.51 L635.3 185.51 L634.05 183.5 M629.64 176.72 L628.28 174.71 L626.91 172.71 L625.5 170.7 M620.59 163.92 L619.09 161.91 L617.6 159.9 L616.23 157.9 M611.35 151.11 L609.84 149.11 L608.3 147.1 L606.73 145.1 M601.23 138.31 L599.55 136.3 L597.84 134.3 L596.11 132.29 M590.09 125.51 L588.27 123.5 L586.43 121.5 L584.57 119.49 M578.18 112.71 L576.26 110.7 L574.33 108.69 L572.38 106.69 M565.76 99.9 L563.78 97.9 L561.8 95.89 L559.82 93.89 M680.35 499.45 L680.48 497.94 L680.6 496.43 L680.73 494.93 M681.16 489.8 L681.29 488.28 L681.41 486.75 L681.54 485.23 M681.97 480.05 L682.1 478.51 L682.23 476.98 L682.36 475.44 M682.79 470.2 L682.92 468.65 L683.05 467.1 L683.18 465.54 M683.61 460.25 L683.74 458.68 L683.86 457.11 L683.99 455.54 M684.41 450.2 L684.54 448.61 L684.66 447.03 L684.79 445.44 M685.2 440.04 L685.33 438.43 L685.45 436.83 L685.57 435.23 M685.97 429.77 L686.09 428.15 L686.21 426.53 L686.32 424.9 M686.71 419.39 L686.82 417.75 L686.93 416.11 L687.04 414.47 M687.4 408.89 L687.5 407.24 L687.61 405.58 L687.71 403.92 M688.04 398.28 L688.13 396.61 L688.23 394.93 L688.32 393.26 M688.61 387.55 L688.69 385.86 L688.77 384.16 L688.85 382.47 M689.1 376.7 L689.17 374.99 L689.24 373.28 L689.3 371.56 M689.49 365.73 L689.55 363.99 L689.59 362.26 L689.64 360.53 M689.77 354.63 L689.8 352.87 L689.83 351.12 L689.85 349.36 M689.9 343.39 L689.91 341.62 L689.91 339.84 L689.91 338.07 M689.87 332.03 L689.85 330.23 L689.83 328.44 L689.79 326.64 M689.65 320.53 L689.59 318.71 L689.53 316.89 L689.47 315.07 M689.19 308.89 L689.1 307.05 L689 305.21 L688.89 303.37 M688.47 297.1 L688.33 295.24 L688.18 293.38 L688.02 291.51 M687.43 285.17 L687.24 283.29 L687.03 281.4 L686.82 279.51 M686.02 273.09 L685.76 271.18 L685.49 269.27 L685.22 267.36 M684.18 260.86 L683.85 258.92 L683.51 256.99 L683.15 255.05 M681.84 248.46 L681.42 246.5 L680.99 244.54 L680.55 242.58 M678.92 235.91 L678.4 233.92 L677.87 231.93 L677.32 229.95 M675.32 223.18 L674.69 221.18 L674.04 219.17 L673.37 217.17 M670.97 210.38 L670.22 208.38 L669.45 206.37 L668.65 204.36 M665.82 197.58 L664.94 195.57 L664.03 193.57 L663.11 191.56 M659.8 184.78 L658.78 182.77 L657.73 180.76 L656.65 178.76 M652.85 171.97 L651.68 169.97 L650.48 167.96 L649.25 165.96 M644.93 159.17 L643.61 157.16 L642.25 155.16 L640.88 153.15 M636.05 146.37 L634.66 144.36 L633.31 142.36 L631.93 140.35 M627.03 133.57 L625.52 131.56 L623.98 129.55 L622.41 127.55 M616.91 120.76 L615.23 118.76 L613.53 116.75 L611.8 114.75 M605.81 107.96 L603.99 105.95 L602.16 103.95 L600.31 101.94 M593.95 95.16 L592.04 93.15 L590.12 91.15 L588.19 89.14 M581.6 82.36 L579.64 80.35 L577.68 78.34 L575.71 76.34 M686.99 503.5 L687.02 503.27 L687.04 503.03 L687.06 502.8 M687.56 497.72 L687.7 496.21 L687.85 494.7 L688 493.18 M688.5 488.05 L688.65 486.52 L688.8 485 L688.95 483.47 M689.46 478.28 L689.62 476.74 L689.77 475.2 L689.92 473.66 M690.44 468.42 L690.59 466.86 L690.74 465.3 L690.9 463.74 M691.42 458.45 L691.57 456.87 L691.72 455.3 L691.88 453.73 M692.4 448.37 L692.55 446.78 L692.7 445.19 L692.86 443.6 M693.37 438.19 L693.52 436.59 L693.68 434.98 L693.83 433.37 M694.34 427.9 L694.49 426.28 L694.63 424.66 L694.78 423.03 M695.28 417.5 L695.43 415.86 L695.57 414.22 L695.72 412.58 M696.2 406.99 L696.34 405.33 L696.48 403.67 L696.62 402.01 M697.08 396.36 L697.21 394.68 L697.35 393 L697.48 391.32 M697.91 385.61 L698.04 383.91 L698.16 382.21 L698.28 380.51 M698.68 374.73 L698.8 373.01 L698.91 371.3 L699.02 369.58 M699.38 363.73 L699.48 362 L699.58 360.26 L699.67 358.52 M699.98 352.61 L700.07 350.85 L700.15 349.09 L700.23 347.34 M700.47 341.35 L700.54 339.58 L700.6 337.8 L700.66 336.02 M700.83 329.96 L700.87 328.16 L700.91 326.36 L700.94 324.56 M701.03 318.44 L701.04 316.62 L701.05 314.79 L701.06 312.97 M701.04 306.77 L701.02 304.93 L701 303.08 L700.97 301.24 M700.82 294.96 L700.77 293.09 L700.71 291.23 L700.64 289.36 M700.35 283 L700.25 281.11 L700.14 279.22 L700.02 277.33 M699.56 270.89 L699.41 268.98 L699.25 267.06 L699.07 265.15 M698.42 258.63 L698.2 256.69 L697.97 254.75 L697.73 252.81 M696.84 246.21 L696.55 244.24 L696.25 242.28 L695.94 240.31 M694.77 233.62 L694.4 231.63 L694.01 229.64 L693.6 227.65 M692.12 220.87 L691.65 218.87 L691.16 216.86 L690.66 214.86 M688.83 208.07 L688.25 206.07 L687.65 204.06 L687.04 202.05 M684.82 195.27 L684.13 193.26 L683.41 191.26 L682.68 189.25 M680.04 182.47 L679.21 180.46 L678.36 178.45 L677.49 176.45 M674.39 169.66 L673.42 167.66 L672.43 165.65 L671.42 163.65 M667.82 156.86 L666.7 154.85 L665.56 152.85 L664.4 150.84 M660.28 144.06 L659.02 142.05 L657.72 140.05 L656.41 138.04 M651.77 131.26 L650.5 129.25 L649.22 127.24 L647.9 125.24 M643.23 118.45 L641.78 116.45 L640.31 114.44 L638.8 112.44 M633.5 105.65 L631.88 103.64 L630.23 101.64 L628.55 99.63 M622.72 92.85 L620.95 90.84 L619.16 88.84 L617.36 86.83 M611.12 80.05 L609.4 78.2 L607.66 76.35 L605.91 74.5 M694.54 503.27 L694.71 501.77 L694.87 500.27 L695.03 498.77 M695.59 493.66 L695.76 492.15 L695.93 490.63 L696.1 489.11 M696.67 483.96 L696.84 482.42 L697.01 480.89 L697.18 479.36 M697.77 474.15 L697.94 472.6 L698.12 471.05 L698.29 469.5 M698.88 464.24 L699.06 462.67 L699.23 461.11 L699.41 459.55 M700.01 454.23 L700.19 452.65 L700.37 451.06 L700.54 449.48 M701.15 444.11 L701.33 442.51 L701.51 440.91 L701.68 439.32 M702.29 433.88 L702.47 432.27 L702.65 430.65 L702.83 429.04 M703.43 423.55 L703.61 421.91 L703.78 420.28 L703.96 418.65 M704.56 413.1 L704.73 411.45 L704.91 409.8 L705.08 408.15 M705.67 402.53 L705.84 400.86 L706.02 399.2 L706.19 397.53 M706.76 391.85 L706.93 390.16 L707.09 388.48 L707.26 386.79 M707.81 381.05 L707.97 379.34 L708.13 377.64 L708.29 375.93 M708.82 370.12 L708.97 368.4 L709.12 366.67 L709.27 364.95 M709.77 359.07 L709.91 357.33 L710.05 355.58 L710.19 353.83 M710.64 347.89 L710.77 346.13 L710.89 344.36 L711.02 342.59 M711.42 336.58 L711.53 334.79 L711.64 333.01 L711.75 331.22 M712.09 325.14 L712.18 323.33 L712.27 321.52 L712.36 319.71 M712.62 313.55 L712.69 311.72 L712.76 309.89 L712.82 308.06 M712.99 301.82 L713.04 299.97 L713.07 298.12 L713.1 296.26 M713.18 289.95 L713.18 288.07 L713.19 286.2 L713.18 284.32 M713.13 277.93 L713.1 276.03 L713.06 274.13 L713.02 272.23 M712.81 265.76 L712.74 263.83 L712.65 261.91 L712.56 259.98 M712.18 253.43 L712.05 251.48 L711.91 249.53 L711.76 247.58 M711.17 240.94 L710.98 238.96 L710.77 236.99 L710.55 235.01 M709.72 228.28 L709.45 226.28 L709.16 224.28 L708.87 222.28 M707.76 215.49 L707.4 213.49 L707.03 211.48 L706.64 209.47 M705.22 202.69 L704.77 200.68 L704.3 198.68 L703.82 196.67 M702.05 189.89 L701.49 187.88 L700.91 185.87 L700.31 183.87 M698.16 177.08 L697.48 175.08 L696.78 173.07 L696.06 171.07 M693.47 164.28 L692.66 162.27 L691.82 160.27 L690.97 158.26 M687.91 151.48 L686.95 149.47 L685.98 147.47 L684.98 145.46 M681.41 138.68 L680.31 136.67 L679.18 134.66 L678.02 132.66 M673.94 125.87 L672.68 123.87 L671.39 121.86 L670.08 119.86 M665.74 113.07 L664.47 111.06 L663.17 109.06 L661.83 107.05 M657.1 100.27 L655.63 98.26 L654.14 96.26 L652.62 94.25 M647.28 87.47 L645.64 85.46 L643.98 83.45 L642.3 81.45 M636.45 74.66 L636.4 74.61 L636.35 74.55 L636.3 74.5" fill="none" stroke="#00ff00" stroke-width="0.99"/>
<path d="M148.74 503.5L153.99 497.28 M159.68 490.53L164.97 484.3 M170.69 477.54L176.01 471.28 M181.78 464.51L187.13 458.24 M192.93 451.45L198.31 445.17 M204.14 438.36L209.56 432.06 M215.43 425.24L220.88 418.93 M226.78 412.09L232.26 405.76 M238.19 398.91L243.7 392.57 M249.67 385.69L255.22 379.34 M261.22 372.45L266.79 366.08 M272.83 359.17L278.43 352.79 M284.5 345.87L290.13 339.47 M296.23 332.53L301.89 326.11 M308.02 319.16L313.71 312.73 M319.88 305.76L325.6 299.32 M331.79 292.33L337.54 285.87 M343.77 278.87L349.54 272.39 M355.8 265.38L361.6 258.89 M367.89 251.85L373.72 245.35 M380.04 238.3L385.9 231.78 M392.25 224.71L398.14 218.18 M404.51 211.1L410.43 204.55 M416.84 197.45L422.78 190.88 M429.21 183.77L435.18 177.19 M441.65 170.06L447.64 163.47 M454.14 156.32L460.16 149.71 M466.68 142.55L472.73 135.93 M479.28 128.75L485.36 122.11 M491.94 114.91L498.04 108.26 M504.65 101.05L510.78 94.38 M517.41 87.15L523.57 80.47 M194.96 503.5L200.06 497.28 M205.59 490.53L210.73 484.3 M216.29 477.54L221.46 471.28 M227.07 464.51L232.27 458.24 M237.91 451.45L243.15 445.17 M248.82 438.36L254.1 432.06 M259.81 425.24L265.11 418.93 M270.86 412.09L276.2 405.76 M281.98 398.91L287.35 392.57 M293.17 385.69L298.57 379.34 M304.42 372.45L309.85 366.08 M315.74 359.17L321.2 352.79 M327.12 345.87L332.62 339.47 M338.57 332.53L344.09 326.11 M350.08 319.16L355.64 312.73 M361.65 305.76L367.24 299.32 M373.29 292.33L378.91 285.87 M384.99 278.87L390.63 272.39 M396.75 265.38L402.42 258.89 M408.57 251.85L414.27 245.35 M420.45 238.3L426.18 231.78 M432.39 224.71L438.15 218.18 M444.39 211.1L450.18 204.55 M456.45 197.45L462.26 190.88 M468.56 183.77L474.41 177.19 M480.74 170.06L486.61 163.47 M492.97 156.32L498.87 149.71 M505.26 142.55L511.18 135.93 M517.6 128.75L523.56 122.11 M530.01 114.91L535.99 108.26 M542.47 101.05L548.48 94.38 M554.99 87.15L561.02 80.47 M261.04 503.5L265.92 497.28 M271.21 490.53L276.12 484.3 M281.45 477.54L286.4 471.28 M291.77 464.51L296.75 458.24 M302.16 451.45L307.18 445.17 M312.62 438.36L317.68 432.06 M323.16 425.24L328.25 418.93 M333.77 412.09L338.9 405.76 M344.45 398.91L349.61 392.57 M355.2 385.69L360.4 379.34 M366.02 372.45L371.25 366.08 M376.91 359.17L382.17 352.79 M387.87 345.87L393.16 339.47 M398.9 332.53L404.22 326.11 M409.99 319.16L415.35 312.73 M421.15 305.76L426.54 299.32 M432.37 292.33L437.79 285.87 M443.66 278.87L449.11 272.39 M455.02 265.38L460.5 258.89 M466.44 251.85L471.95 245.35 M477.92 238.3L483.46 231.78 M489.46 224.71L495.03 218.18 M501.07 211.1L506.67 204.55 M512.74 197.45L518.37 190.88 M524.47 183.77L530.13 177.19 M536.26 170.06L541.95 163.47 M548.12 156.32L553.83 149.71 M560.03 142.55L565.78 135.93 M572 128.75L577.78 122.11 M584.03 114.91L589.84 108.26 M596.13 101.05L601.96 94.38 M608.28 87.15L614.14 80.47 M315.24 503.5L319.93 497.28 M325.01 490.53L329.74 484.3 M334.86 477.54L339.62 471.28 M344.78 464.51L349.58 458.24 M354.79 451.45L359.63 445.17 M364.87 438.36L369.74 432.06 M375.02 425.24L379.94 418.93 M385.26 412.09L390.2 405.76 M395.56 398.91L400.55 392.57 M405.95 385.69L410.96 379.34 M416.4 372.45L421.45 366.08 M426.92 359.17L432.01 352.79 M437.52 345.87L442.64 339.47 M448.19 332.53L453.34 326.11 M458.93 319.16L464.12 312.73 M469.73 305.76L474.96 299.32 M480.61 292.33L485.86 285.87 M491.55 278.87L496.84 272.39 M502.57 265.38L507.88 258.89 M513.64 251.85L518.99 245.35 M524.79 238.3L530.17 231.78 M536 224.71L541.41 218.18 M547.27 211.1L552.72 204.55 M558.61 197.45L564.09 190.88 M570.02 183.77L575.52 177.19 M581.49 170.06L587.02 163.47 M593.02 156.32L598.59 149.71 M604.61 142.55L610.21 135.93 M616.27 128.75L621.9 122.11 M627.99 114.91L633.65 108.26 M639.78 101.05L645.46 94.38 M651.62 87.15L657.34 80.47 M348.79 503.5L353.36 497.28 M358.31 490.53L362.91 484.3 M367.9 477.54L372.55 471.28 M377.58 464.51L382.26 458.24 M387.34 451.45L392.06 445.17 M397.18 438.36L401.93 432.06 M407.09 425.24L411.89 418.93 M417.08 412.09L421.92 405.76 M427.15 398.91L432.02 392.57 M437.3 385.69L442.2 379.34 M447.52 372.45L452.46 366.08 M457.81 359.17L462.79 352.79 M468.18 345.87L473.19 339.47 M478.62 332.53L483.67 326.11 M489.14 319.16L494.22 312.73 M499.72 305.76L504.83 299.32 M510.37 292.33L515.52 285.87 M521.1 278.87L526.28 272.39 M531.89 265.38L537.11 258.89 M542.75 251.85L548 245.35 M553.69 238.3L558.96 231.78 M564.68 224.71L570 218.18 M575.75 211.1L581.09 204.55 M586.88 197.45L592.26 190.88 M598.08 183.77L603.49 177.19 M609.34 170.06L614.78 163.47 M620.67 156.32L626.14 149.71 M632.07 142.55L637.57 135.93 M643.53 128.75L649.06 122.11 M655.05 114.91L660.61 108.26 M666.64 101.05L672.23 94.38 M678.29 87.15L683.91 80.47 M373.48 503.5L377.95 497.28 M382.8 490.53L387.32 484.3 M392.21 477.54L396.77 471.28 M401.7 464.51L406.3 458.24 M411.28 451.45L415.91 445.17 M420.93 438.36L425.6 432.06 M430.66 425.24L435.38 418.93 M440.48 412.09L445.23 405.76 M450.37 398.91L455.16 392.57 M460.34 385.69L465.16 379.34 M470.39 372.45L475.24 366.08 M480.51 359.17L485.4 352.79 M490.7 345.87L495.63 339.47 M500.97 332.53L505.94 326.11 M511.32 319.16L516.32 312.73 M521.74 305.76L526.77 299.32 M532.22 292.33L537.29 285.87 M542.79 278.87L547.89 272.39 M553.42 265.38L558.55 258.89 M564.12 251.85L569.29 245.35 M574.89 238.3L580.09 231.78 M585.73 224.71L590.97 218.18 M596.64 211.1L601.91 204.55 M607.62 197.45L612.92 190.88 M618.66 183.77L623.99 177.19 M629.77 170.06L635.14 163.47 M640.95 156.32L646.35 149.71 M652.19 142.55L657.62 135.93 M663.5 128.75L668.96 122.11 M674.88 114.91L680.37 108.26 M686.32 101.05L691.84 94.38 M697.83 87.15L703.38 80.47 M409.57 503.5L413.91 497.28 M418.61 490.53L423 484.3 M427.74 477.54L432.17 471.28 M436.96 464.51L441.42 458.24 M446.26 451.45L450.76 445.17 M455.64 438.36L460.18 432.06 M465.1 425.24L469.69 418.93 M474.65 412.09L479.27 405.76 M484.28 398.91L488.94 392.57 M493.99 385.69L498.68 379.34 M503.77 372.45L508.51 366.08 M513.64 359.17L518.41 352.79 M523.58 345.87L528.39 339.47 M533.6 332.53L538.44 326.11 M543.69 319.16L548.57 312.73 M553.86 305.76L558.78 299.32 M564.1 292.33L569.06 285.87 M574.42 278.87L579.41 272.39 M584.81 265.38L589.83 258.89 M595.27 251.85L600.33 245.35 M605.81 238.3L610.9 231.78 M616.41 224.71L621.54 218.18 M627.09 211.1L632.25 204.55 M637.84 197.45L643.03 190.88 M648.65 183.77L653.88 177.19 M659.54 170.06L664.8 163.47 M670.49 156.32L675.78 149.71 M681.51 142.55L686.84 135.93 M692.6 128.75L697.96 122.11 M703.76 114.91L709.15 108.26 M714.99 101.05L720.41 94.38 M726.28 87.15L731.73 80.47 M436.14 503.5L440.38 497.28 M444.97 490.53L449.26 484.3 M453.89 477.54L458.22 471.28 M462.9 464.51L467.27 458.24 M471.99 451.45L476.4 445.17 M481.17 438.36L485.62 432.06 M490.44 425.24L494.92 418.93 M499.78 412.09L504.31 405.76 M509.21 398.91L513.78 392.57 M518.72 385.69L523.33 379.34 M528.31 372.45L532.96 366.08 M537.99 359.17L542.67 352.79 M547.74 345.87L552.45 339.47 M557.57 332.53L562.32 326.11 M567.47 319.16L572.27 312.73 M577.46 305.76L582.29 299.32 M587.52 292.33L592.38 285.87 M597.65 278.87L602.55 272.39 M607.86 265.38L612.8 258.89 M618.15 251.85L623.12 245.35 M628.5 238.3L633.51 231.78 M638.93 224.71L643.98 218.18 M649.44 211.1L654.51 204.55 M660.01 197.45L665.12 190.88 M670.66 183.77L675.8 177.19 M681.37 170.06L686.55 163.47 M692.16 156.32L697.37 149.71 M703.02 142.55L708.26 135.93 M713.94 128.75L719.22 122.11 M724.94 114.91L730.25 108.26 M736 101.05L741.34 94.38 M747.13 87.15L752.51 80.47 M475.01 503.5L479.09 497.28 M483.52 490.53L487.65 484.3 M492.13 477.54L496.3 471.28 M500.82 464.51L505.04 458.24 M509.61 451.45L513.87 445.17 M518.49 438.36L522.79 432.06 M527.45 425.24L531.79 418.93 M536.5 412.09L540.88 405.76 M545.63 398.91L550.06 392.57 M554.85 385.69L559.31 379.34 M564.15 372.45L568.66 366.08 M573.54 359.17L578.08 352.79 M583 345.87L587.59 339.47 M592.55 332.53L597.17 326.11 M602.18 319.16L606.84 312.73 M611.89 305.76L616.59 299.32 M621.68 292.33L626.41 285.87 M631.54 278.87L636.31 272.39 M641.48 265.38L646.29 258.89 M651.5 251.85L656.35 245.35 M661.6 238.3L666.48 231.78 M671.77 224.71L676.68 218.18 M682.01 211.1L686.97 204.55 M692.33 197.45L697.32 190.88 M702.72 183.77L707.75 177.19 M713.19 170.06L718.25 163.47 M723.73 156.32L728.82 149.71 M734.34 142.55L739.47 135.93 M745.02 128.75L750.18 122.11 M755.78 114.91L760.97 108.26 M766.6 101.05L771.83 94.38 M777.5 87.15L782.76 80.47 M503.61 503.5L507.58 497.28 M511.89 490.53L515.9 484.3 M520.26 477.54L524.32 471.28 M528.72 464.51L532.83 458.24 M537.28 451.45L541.43 445.17 M545.92 438.36L550.12 432.06 M554.66 425.24L558.9 418.93 M563.49 412.09L567.76 405.76 M572.4 398.91L576.72 392.57 M581.4 385.69L585.76 379.34 M590.49 372.45L594.89 366.08 M599.66 359.17L604.1 352.79 M608.91 345.87L613.39 339.47 M618.25 332.53L622.77 326.11 M627.67 319.16L632.23 312.73 M637.17 305.76L641.77 299.32 M646.75 292.33L651.39 285.87 M656.42 278.87L661.09 272.39 M666.16 265.38L670.87 258.89 M675.98 251.85L680.73 245.35 M685.88 238.3L690.67 231.78 M695.85 224.71L700.68 218.18 M705.91 211.1L710.77 204.55 M716.03 197.45L720.93 190.88 M726.24 183.77L731.17 177.19 M736.52 170.06L741.49 163.47 M746.87 156.32L751.88 149.71 M757.3 142.55L762.34 135.93 M767.8 128.75L772.87 122.11 M778.37 114.91L783.48 108.26 M789.02 101.05L794.16 94.38 M799.74 87.15L804.92 80.47 M526.39 503.5L530.27 497.28 M534.48 490.53L538.41 484.3 M542.66 477.54L546.63 471.28 M550.94 464.51L554.95 458.24 M559.31 451.45L563.37 445.17 M567.77 438.36L571.88 432.06 M576.32 425.24L580.47 418.93 M584.97 412.09L589.16 405.76 M593.7 398.91L597.94 392.57 M602.53 385.69L606.8 379.34 M611.44 372.45L615.76 366.08 M620.43 359.17L624.79 352.79 M629.52 345.87L633.92 339.47 M638.69 332.53L643.13 326.11 M647.94 319.16L652.42 312.73 M657.27 305.76L661.79 299.32 M666.69 292.33L671.25 285.87 M676.19 278.87L680.79 272.39 M685.77 265.38L690.41 258.89 M695.43 251.85L700.11 245.35 M705.17 238.3L709.89 231.78 M714.99 224.71L719.74 218.18 M724.89 211.1L729.68 204.55 M734.86 197.45L739.69 190.88 M744.92 183.77L749.78 177.19 M755.04 170.06L759.94 163.47 M765.25 156.32L770.18 149.71 M775.53 142.55L780.5 135.93 M785.88 128.75L790.89 122.11 M796.31 114.91L801.35 108.26 M806.82 101.05L811.89 94.38 M817.39 87.15L822.51 80.47 M545.4 503.5L549.2 497.28 M553.32 490.53L557.17 484.3 M561.34 477.54L565.24 471.28 M569.46 464.51L573.4 458.24 M577.67 451.45L581.66 445.17 M585.98 438.36L590.01 432.06 M594.38 425.24L598.46 418.93 M602.88 412.09L607 405.76 M611.46 398.91L615.62 392.57 M620.13 385.69L624.34 379.34 M628.9 372.45L633.15 366.08 M637.75 359.17L642.04 352.79 M646.69 345.87L651.02 339.47 M655.71 332.53L660.09 326.11 M664.82 319.16L669.24 312.73 M674.02 305.76L678.47 299.32 M683.3 292.33L687.79 285.87 M692.66 278.87L697.19 272.39 M702.11 265.38L706.68 258.89 M711.63 251.85L716.24 245.35 M721.24 238.3L725.89 231.78 M730.93 224.71L735.61 218.18 M740.69 211.1L745.42 204.55 M750.54 197.45L755.3 190.88 M760.46 183.77L765.26 177.19 M770.46 170.06L775.3 163.47 M780.54 156.32L785.42 149.71 M790.7 142.55L795.61 135.93 M800.93 128.75L805.88 122.11 M811.24 114.91L816.22 108.26 M821.62 101.05L826.64 94.38 M832.08 87.15L837.13 80.47 M569.13 503.5L572.84 497.28 M576.85 490.53L580.61 484.3 M584.67 477.54L588.47 471.28 M592.59 464.51L596.44 458.24 M600.61 451.45L604.5 445.17 M608.72 438.36L612.66 432.06 M616.92 425.24L620.91 418.93 M625.23 412.09L629.25 405.76 M633.62 398.91L637.69 392.57 M642.1 385.69L646.22 379.34 M650.68 372.45L654.84 366.08 M659.35 359.17L663.55 352.79 M668.11 345.87L672.35 339.47 M676.95 332.53L681.24 326.11 M685.88 319.16L690.21 312.73 M694.9 305.76L699.27 299.32 M704.01 292.33L708.42 285.87 M713.2 278.87L717.65 272.39 M722.47 265.38L726.96 258.89 M731.83 251.85L736.36 245.35 M741.26 238.3L745.83 231.78 M750.79 224.71L755.39 218.18 M760.39 211.1L765.04 204.55 M770.07 197.45L774.76 190.88 M779.83 183.77L784.56 177.19 M789.68 170.06L794.44 163.47 M799.6 156.32L804.4 149.71 M809.6 142.55L814.43 135.93 M819.67 128.75L824.55 122.11 M829.83 114.91L834.74 108.26 M840.06 101.05L845.01 94.38 M850.37 87.15L855.35 80.47 M600.5 503.5L604.07 497.28 M607.94 490.53L611.56 484.3 M615.49 477.54L619.16 471.28 M623.14 464.51L626.86 458.24 M630.89 451.45L634.65 445.17 M638.74 438.36L642.55 432.06 M646.68 425.24L650.54 418.93 M654.73 412.09L658.63 405.76 M662.86 398.91L666.82 392.57 M671.1 385.69L675.1 379.34 M679.43 372.45L683.47 366.08 M687.85 359.17L691.93 352.79 M696.36 345.87L700.49 339.47 M704.96 332.53L709.14 326.11 M713.66 319.16L717.87 312.73 M722.44 305.76L726.7 299.32 M731.31 292.33L735.61 285.87 M740.27 278.87L744.61 272.39 M749.31 265.38L753.69 258.89 M758.44 251.85L762.86 245.35 M767.66 238.3L772.12 231.78 M776.95 224.71L781.46 218.18 M786.34 211.1L790.88 204.55 M795.8 197.45L800.39 190.88 M805.35 183.77L809.97 177.19 M814.98 170.06L819.64 163.47 M824.69 156.32L829.39 149.71 M834.48 142.55L839.22 135.93 M844.35 128.75L849.13 122.11 M854.3 114.91L859.11 108.26 M864.33 101.05L869.18 94.38 M874.44 87.15L879.32 80.47 M625.39 503.5L628.86 497.28 M632.61 490.53L636.13 484.3 M639.94 477.54L643.51 471.28 M647.38 464.51L650.99 458.24 M654.91 451.45L658.58 445.17 M662.55 438.36L666.26 432.06 M670.28 425.24L674.05 418.93 M678.12 412.09L681.93 405.76 M686.05 398.91L689.91 392.57 M694.09 385.69L697.99 379.34 M702.21 372.45L706.16 366.08 M710.44 359.17L714.43 352.79 M718.75 345.87L722.79 339.47 M727.16 332.53L731.24 326.11 M735.66 319.16L739.79 312.73 M744.25 305.76L748.42 299.32 M752.94 292.33L757.15 285.87 M761.71 278.87L765.96 272.39 M770.57 265.38L774.86 258.89 M779.52 251.85L783.85 245.35 M788.55 238.3L792.93 231.78 M797.67 224.71L802.09 218.18 M806.88 211.1L811.34 204.55 M816.17 197.45L820.67 190.88 M825.54 183.77L830.08 177.19 M835 170.06L839.58 163.47 M844.54 156.32L849.16 149.71 M854.16 142.55L858.82 135.93 M863.87 128.75L868.57 122.11 M873.65 114.91L878.39 108.26 M883.52 101.05L888.3 94.38 M893.47 87.15L898.28 80.47 M646.08 503.5L649.46 497.28 M653.12 490.53L656.54 484.3 M660.26 477.54L663.74 471.28 M667.51 464.51L671.04 458.24 M674.87 451.45L678.45 445.17 M682.32 438.36L685.95 432.06 M689.89 425.24L693.56 418.93 M697.55 412.09L701.27 405.76 M705.31 398.91L709.08 392.57 M713.17 385.69L716.99 379.34 M721.13 372.45L725 366.08 M729.18 359.17L733.1 352.79 M737.34 345.87L741.29 339.47 M745.58 332.53L749.58 326.11 M753.92 319.16L757.97 312.73 M762.35 305.76L766.45 299.32 M770.88 292.33L775.01 285.87 M779.49 278.87L783.67 272.39 M788.2 265.38L792.42 258.89 M796.99 251.85L801.26 245.35 M805.88 238.3L810.18 231.78 M814.85 224.71L819.2 218.18 M823.91 211.1L828.3 204.55 M833.05 197.45L837.48 190.88 M842.28 183.77L846.75 177.19 M851.6 170.06L856.11 163.47 M861 156.32L865.55 149.71 M870.48 142.55L875.07 135.93 M880.04 128.75L884.67 122.11 M889.69 114.91L894.36 108.26 M899.42 101.05L904.13 94.38 M909.23 87.15L913.98 80.47 M663.79 503.5L667.1 497.28 M670.67 490.53L674.02 484.3 M677.66 477.54L681.06 471.28 M684.75 464.51L688.21 458.24 M691.95 451.45L695.46 445.17 M699.25 438.36L702.81 432.06 M706.66 425.24L710.27 418.93 M714.17 412.09L717.83 405.76 M721.79 398.91L725.49 392.57 M729.5 385.69L733.25 379.34 M737.31 372.45L741.11 366.08 M745.23 359.17L749.07 352.79 M753.23 345.87L757.13 339.47 M761.34 332.53L765.28 326.11 M769.54 319.16L773.52 312.73 M777.84 305.76L781.86 299.32 M786.22 292.33L790.29 285.87 M794.7 278.87L798.82 272.39 M803.28 265.38L807.43 258.89 M811.94 251.85L816.14 245.35 M820.69 238.3L824.94 231.78 M829.53 224.71L833.82 218.18 M838.46 211.1L842.79 204.55 M847.48 197.45L851.85 190.88 M856.59 183.77L861 177.19 M865.78 170.06L870.23 163.47 M875.06 156.32L879.55 149.71 M884.42 142.55L888.95 135.93 M893.86 128.75L898.44 122.11 M903.39 114.91L908.01 108.26 M913.01 101.05L917.66 94.38 M922.7 87.15L927.4 80.47 M679.3 503.5L682.53 497.28 M686.03 490.53L689.32 484.3 M692.88 477.54L696.21 471.28 M699.83 464.51L703.22 458.24 M706.89 451.45L710.33 445.17 M714.06 438.36L717.55 432.06 M721.34 425.24L724.88 418.93 M728.71 412.09L732.31 405.76 M736.2 398.91L739.84 392.57 M743.78 385.69L747.47 379.34 M751.46 372.45L755.2 366.08 M759.25 359.17L763.03 352.79 M767.13 345.87L770.96 339.47 M775.11 332.53L778.99 326.11 M783.19 319.16L787.11 312.73 M791.36 305.76L795.33 299.32 M799.63 292.33L803.65 285.87 M807.99 278.87L812.05 272.39 M816.45 265.38L820.55 258.89 M825 251.85L829.14 245.35 M833.63 238.3L837.82 231.78 M842.36 224.71L846.6 218.18 M851.18 211.1L855.46 204.55 M860.09 197.45L864.41 190.88 M869.08 183.77L873.44 177.19 M878.16 170.06L882.57 163.47 M887.33 156.32L891.78 149.71 M896.59 142.55L901.07 135.93 M905.93 128.75L910.45 122.11 M915.36 114.91L919.92 108.26 M924.87 101.05L929.47 94.38 M934.46 87.15L939.11 80.47" fill="none" stroke="#4b0082" stroke-width="0.99"/>
<line x1="-386.95" y1="503.5" x2="131.29" y2="74.5" stroke="#ff0000" stroke-width="0.99" />
<line x1="-319.17" y1="503.5" x2="199.06" y2="74.5" stroke="#ff0000" stroke-width="0.99" />
<line x1="-251.39" y1="503.5" x2="266.84" y2="74.5" stroke="#ff0000" stroke-width="0.99" />
<line x1="-183.61" y1="503.5" x2="334.62" y2="74.5" stroke="#ff0000" stroke-width="0.99" />
<line x1="-115.83" y1="503.5" x2="402.4" y2="74.5" stroke="#ff0000" stroke-width="0.99" />
<line x1="-48.06" y1="503.5" x2="470.18" y2="74.5" stroke="#ff0000" stroke-width="0.99" />
<line x1="19.72" y1="503.5" x2="537.95" y2="74.5" stroke="#ff0000" stroke-width="0.99" />
<line x1="87.5" y1="503.5" x2="605.73" y2="74.5" stroke="#ff0000" stroke-width="0.99" />
<line x1="155.28" y1="503.5" x2="673.51" y2="74.5" stroke="#ff0000" stroke-width="0.99" />
<line x1="223.06" y1="503.5" x2="741.29" y2="74.5" stroke="#ff0000" stroke-width="0.99" />
<line x1="290.83" y1="503.5" x2="809.07" y2="74.5" stroke="#ff0000" stroke-width="0.99" />
<line x1="358.61" y1="503.5" x2="876.84" y2="74.5" stroke="#ff0000" stroke-width="0.99" />
<line x1="426.39" y1="503.5" x2="944.62" y2="74.5" stroke="#ff0000" stroke-width="0.99" />
<line x1="494.17" y1="503.5" x2="1012.4" y2="74.5" stroke="#ff0000" stroke-width="0.99" />
<line x1="561.95" y1="503.5" x2="1080.18" y2="74.5" stroke="#ff0000" stroke-width="0.99" />
<line x1="629.72" y1="503.5" x2="1147.96" y2="74.5" stroke="#ff0000" stroke-width="0.99" />
<line x1="697.5" y1="503.5" x2="1215.73" y2="74.5" stroke="#ff0000" stroke-width="0.99" />
<line x1="87" y1="201.5" x2="697" y2="201.5" stroke="#000000" stroke-width="1" />
<line x1="87" y1="275.5" x2="697" y2="275.5" stroke="#000000" stroke-width="1" />
<line x1="87" y1="327.5" x2="697" y2="327.5" stroke="#000000" stroke-width="1" />
<line x1="87" y1="368.5" x2="697" y2="368.5" stroke="#000000" stroke-width="1" />
<line x1="87" y1="401.5" x2="697" y2="401.5" stroke="#000000" stroke-width="1" />
<line x1="87" y1="429.5" x2="697" y2="429.5" stroke="#000000" stroke-width="1" />
<line x1="87" y1="453.5" x2="697" y2="453.5" stroke="#000000" stroke-width="1" />
<line x1="87" y1="475.5" x2="697" y2="475.5" stroke="#000000" stroke-width="1" />
<line x1="87" y1="494.5" x2="697" y2="494.5" stroke="#000000" stroke-width="1" />
</g>
<g shape-rendering="crispEdges">
<line x1="87" y1="74.5" x2="697" y2="74.5" stroke="#000000" stroke-width="1" />
<line x1="87" y1="503.5" x2="697" y2="503.5" stroke="#000000" stroke-width="1" />
<line x1="87.5" y1="74.5" x2="87.5" y2="504" stroke="#000000" stroke-width="1" />
</g>
<g clip-path="url(#clip2)" shape-rendering="crispEdges">
<line x1="587" y1="479.5" x2="591.9" y2="479.5" stroke="#4b0082" stroke-width="1" />
<line x1="584.48" y1="476.5" x2="591.49" y2="476.5" stroke="#4b0082" stroke-width="1" />
<line x1="581.91" y1="473.5" x2="591.06" y2="473.5" stroke="#4b0082" stroke-width="1" />
<line x1="579.31" y1="470.5" x2="590.61" y2="470.5" stroke="#4b0082" stroke-width="1" />
<line x1="576.66" y1="467.5" x2="590.11" y2="467.5" stroke="#4b0082" stroke-width="1" />
<line x1="574.49" y1="464.5" x2="589.57" y2="464.5" stroke="#4b0082" stroke-width="1" />
<line x1="574.42" y1="461.5" x2="589.01" y2="461.5" stroke="#4b0082" stroke-width="1" />
<line x1="574.36" y1="457.5" x2="588.42" y2="457.5" stroke="#4b0082" stroke-width="1" />
<line x1="574.29" y1="454.5" x2="587.8" y2="454.5" stroke="#4b0082" stroke-width="1" />
<line x1="574.22" y1="450.5" x2="587.15" y2="450.5" stroke="#4b0082" stroke-width="1" />
<line x1="574.15" y1="447.5" x2="586.46" y2="447.5" stroke="#4b0082" stroke-width="1" />
<line x1="574.08" y1="443.5" x2="585.72" y2="443.5" stroke="#4b0082" stroke-width="1" />
<line x1="574.01" y1="440.5" x2="584.95" y2="440.5" stroke="#4b0082" stroke-width="1" />
<line x1="573.94" y1="436.5" x2="584.13" y2="436.5" stroke="#4b0082" stroke-width="1" />
<line x1="573.86" y1="432.5" x2="583.27" y2="432.5" stroke="#4b0082" stroke-width="1" />
<line x1="573.48" y1="428.5" x2="582.35" y2="428.5" stroke="#4b0082" stroke-width="1" />
<line x1="571.86" y1="424.5" x2="581.37" y2="424.5" stroke="#4b0082" stroke-width="1" />
<line x1="570.2" y1="420.5" x2="580.32" y2="420.5" stroke="#4b0082" stroke-width="1" />
<line x1="568.5" y1="416.5" x2="579.21" y2="416.5" stroke="#4b0082" stroke-width="1" />
<line x1="566.76" y1="412.5" x2="578.02" y2="412.5" stroke="#4b0082" stroke-width="1" />
<line x1="564.99" y1="407.5" x2="576.75" y2="407.5" stroke="#4b0082" stroke-width="1" />
<line x1="563.17" y1="403.5" x2="575.39" y2="403.5" stroke="#4b0082" stroke-width="1" />
<line x1="561.56" y1="398.5" x2="573.92" y2="398.5" stroke="#4b0082" stroke-width="1" />
<line x1="560.13" y1="394.5" x2="572.35" y2="394.5" stroke="#4b0082" stroke-width="1" />
<line x1="558.68" y1="389.5" x2="570.66" y2="389.5" stroke="#4b0082" stroke-width="1" />
<line x1="557.18" y1="384.5" x2="568.82" y2="384.5" stroke="#4b0082" stroke-width="1" />
<line x1="555.64" y1="379.5" x2="566.85" y2="379.5" stroke="#4b0082" stroke-width="1" />
<line x1="554.05" y1="374.5" x2="564.71" y2="374.5" stroke="#4b0082" stroke-width="1" />
<line x1="552.42" y1="368.5" x2="562.38" y2="368.5" stroke="#4b0082" stroke-width="1" />
<line x1="549.34" y1="363.5" x2="559.86" y2="363.5" stroke="#4b0082" stroke-width="1" />
<line x1="545.95" y1="357.5" x2="557.11" y2="357.5" stroke="#4b0082" stroke-width="1" />
<line x1="542.45" y1="351.5" x2="554.1" y2="351.5" stroke="#4b0082" stroke-width="1" />
<line x1="538.83" y1="345.5" x2="550.81" y2="345.5" stroke="#4b0082" stroke-width="1" />
<line x1="535.08" y1="339.5" x2="547.21" y2="339.5" stroke="#4b0082" stroke-width="1" />
<line x1="531.21" y1="332.5" x2="543.25" y2="332.5" stroke="#4b0082" stroke-width="1" />
<line x1="526.97" y1="326.5" x2="538.91" y2="326.5" stroke="#4b0082" stroke-width="1" />
<line x1="521.69" y1="319.5" x2="534.12" y2="319.5" stroke="#4b0082" stroke-width="1" />
<line x1="516.21" y1="311.5" x2="528.83" y2="311.5" stroke="#4b0082" stroke-width="1" />
<line x1="510.49" y1="304.5" x2="523" y2="304.5" stroke="#4b0082" stroke-width="1" />
<line x1="504.53" y1="296.5" x2="516.57" y2="296.5" stroke="#4b0082" stroke-width="1" />
<line x1="498.29" y1="287.5" x2="509.47" y2="287.5" stroke="#4b0082" stroke-width="1" />
<line x1="491.76" y1="279.5" x2="501.65" y2="279.5" stroke="#4b0082" stroke-width="1" />
<line x1="484.14" y1="270.5" x2="493.05" y2="270.5" stroke="#4b0082" stroke-width="1" />
<line x1="475.43" y1="260.5" x2="483.71" y2="260.5" stroke="#4b0082" stroke-width="1" />
<line x1="466.24" y1="250.5" x2="473.52" y2="250.5" stroke="#4b0082" stroke-width="1" />
<line x1="456.54" y1="239.5" x2="462.44" y2="239.5" stroke="#4b0082" stroke-width="1" />
<line x1="446.38" y1="228.5" x2="450.46" y2="228.5" stroke="#4b0082" stroke-width="1" />
<polyline points="365,74 370,147.98 372.6,200.46 392.7,241.17 402.7,274.44 422,326.93 465,367.64 508,400.9 537,429.03 552.5,464.45 569.5,479.88 586.8,496" fill="none" stroke="#0000ff" stroke-width="0.99" />
<polyline points="365,75 370,148.98 372.6,201.46 392.7,242.17 402.7,275.44 422,327.93 465,368.64 508,401.9 537,430.03 552.5,465.45 569.5,480.88 586.8,497" fill="none" stroke="#0000ff" stroke-width="0.99" />
<polyline points="402.5,74 393.75,147.98 422.3,200.46 458.5,241.17 488.6,274.44 528,326.93 552.2,367.64 562.3,400.9 573.8,429.03 574.5,464.45 587.5,479.88 610.9,496" fill="none" stroke="#ff0000" stroke-width="0.99" />
<polyline points="402.5,75 393.75,148.98 422.3,201.46 458.5,242.17 488.6,275.44 528,327.93 552.2,368.64 562.3,401.9 573.8,430.03 574.5,465.45 587.5,480.88 610.9,497" fill="none" stroke="#ff0000" stroke-width="0.99" />
<polyline points="610.9,496 591.25,485.8 590.74,481.8 589.06,469.8 587.03,457.8 584.74,445.8 582.16,433.8 579.24,421.8 575.94,409.8 572.21,397.8 568,385.8 563.24,373.8 557.88,361.8 551.85,349.8 545.1,337.8 537.58,325.8 529.24,313.8 520.08,301.8 510.11,289.8 499.37,277.8 487.99,265.8 476.15,253.8 463.88,241.8 451.34,229.8 438.69,217.8 426.07,205.8 413.59,193.8 401.35,181.8 389.42,169.8 377.85,157.8 366.67,145.8 355.92,133.8 345.6,121.8 335.71,109.8 326.27,97.8 317.26,85.8 308.82,74 308.82,74" fill="none" stroke="#4b0082" stroke-width="0.99" />
<polyline points="610.9,497 591.25,486.8 590.74,482.8 589.06,470.8 587.03,458.8 584.74,446.8 582.16,434.8 579.24,422.8 575.94,410.8 572.21,398.8 568,386.8 563.24,374.8 557.88,362.8 551.85,350.8 545.1,338.8 537.58,326.8 529.24,314.8 520.08,302.8 510.11,290.8 499.37,278.8 487.99,266.8 476.15,254.8 463.88,242.8 451.34,230.8 438.69,218.8 426.07,206.8 413.59,194.8 401.35,182.8 389.42,170.8 377.85,158.8 366.67,146.8 355.92,134.8 345.6,122.8 335.71,110.8 326.27,98.8 317.26,86.8 308.82,75 308.82,75" fill="none" stroke="#4b0082" stroke-width="0.99" />
<rect x="586" y="479.5" width="4" height="4" fill="#ff0000"/>
</g>
<g font-family="Liberation Sans, sans-serif">
<text x="86.3" y="51.4" font-size="15" fill="#000000" text-anchor="start" stroke="#fff" stroke-width="0.2" textLength="35.4" lengthAdjust="spacingAndGlyphs" >AIRS</text>
<text x="128" y="51.4" font-size="15" fill="#000000" text-anchor="start" stroke="#fff" stroke-width="0.2" textLength="46.8" lengthAdjust="spacingAndGlyphs" >SkewT</text>
<text x="183.2" y="51.4" font-size="15" fill="#000000" text-anchor="start" stroke="#fff" stroke-width="0.2" textLength="63.7" lengthAdjust="spacingAndGlyphs" >Diagram</text>
<text x="255.8" y="51.4" font-size="15" fill="#000000" text-anchor="start" stroke="#fff" stroke-width="0.2" textLength="71.8" lengthAdjust="spacingAndGlyphs" >2010−08</text>
<text x="334.3" y="51.4" font-size="15" fill="#000000" text-anchor="start" stroke="#fff" stroke-width="0.2" textLength="135.6" lengthAdjust="spacingAndGlyphs" >−02/13:30:33.53</text>
<text x="478.6" y="51.4" font-size="15" fill="#000000" text-anchor="start" stroke="#fff" stroke-width="0.2" textLength="69" lengthAdjust="spacingAndGlyphs" >(Lat/Lon</text>
<text x="556.2" y="51.4" font-size="15" fill="#000000" text-anchor="start" stroke="#fff" stroke-width="0.2" textLength="44.5" lengthAdjust="spacingAndGlyphs" >3.87/</text>
<text x="605.6" y="51.4" font-size="15" fill="#000000" text-anchor="start" stroke="#fff" stroke-width="0.2" textLength="5.8" lengthAdjust="spacingAndGlyphs" >-</text>
<text x="618" y="51.4" font-size="15" fill="#000000" text-anchor="start" stroke="#fff" stroke-width="0.2" textLength="50.3" lengthAdjust="spacingAndGlyphs" >172.81</text>
<text x="678.3" y="51.4" font-size="15" fill="#000000" text-anchor="start" stroke="#fff" stroke-width="0.2" textLength="36" lengthAdjust="spacingAndGlyphs" >deg)</text>
<text x="113.49" y="65.6" font-size="11" fill="#ff0000" text-anchor="start" textLength="28.5" lengthAdjust="spacingAndGlyphs" >−120</text>
<text x="181.26" y="65.6" font-size="11" fill="#ff0000" text-anchor="start" textLength="28.5" lengthAdjust="spacingAndGlyphs" >−110</text>
<text x="249.04" y="65.6" font-size="11" fill="#ff0000" text-anchor="start" textLength="28.5" lengthAdjust="spacingAndGlyphs" >−100</text>
<text x="323.32" y="65.6" font-size="11" fill="#ff0000" text-anchor="start" textLength="22" lengthAdjust="spacingAndGlyphs" >−90</text>
<text x="391.1" y="65.6" font-size="11" fill="#ff0000" text-anchor="start" textLength="22" lengthAdjust="spacingAndGlyphs" >−80</text>
<text x="458.88" y="65.6" font-size="11" fill="#ff0000" text-anchor="start" textLength="22" lengthAdjust="spacingAndGlyphs" >−70</text>
<text x="526.65" y="65.6" font-size="11" fill="#ff0000" text-anchor="start" textLength="22" lengthAdjust="spacingAndGlyphs" >−60</text>
<text x="594.43" y="65.6" font-size="11" fill="#ff0000" text-anchor="start" textLength="22" lengthAdjust="spacingAndGlyphs" >−50</text>
<text x="662.21" y="65.6" font-size="11" fill="#ff0000" text-anchor="start" textLength="22" lengthAdjust="spacingAndGlyphs" >−40</text>
<text x="86.9" y="517" font-size="11" fill="#ff0000" text-anchor="start" textLength="22" lengthAdjust="spacingAndGlyphs" >−50</text>
<text x="154.68" y="517" font-size="11" fill="#ff0000" text-anchor="start" textLength="22" lengthAdjust="spacingAndGlyphs" >−40</text>
<text x="222.46" y="517" font-size="11" fill="#ff0000" text-anchor="start" textLength="22" lengthAdjust="spacingAndGlyphs" >−30</text>
<text x="290.23" y="517" font-size="11" fill="#ff0000" text-anchor="start" textLength="22" lengthAdjust="spacingAndGlyphs" >−20</text>
<text x="358.01" y="517" font-size="11" fill="#ff0000" text-anchor="start" textLength="22" lengthAdjust="spacingAndGlyphs" >−10</text>
<text x="433.34" y="517" font-size="11" fill="#ff0000" text-anchor="start" textLength="6.9" lengthAdjust="spacingAndGlyphs" >0</text>
<text x="498.17" y="517" font-size="11" fill="#ff0000" text-anchor="start" textLength="12.8" lengthAdjust="spacingAndGlyphs" >10</text>
<text x="565.95" y="517" font-size="11" fill="#ff0000" text-anchor="start" textLength="12.8" lengthAdjust="spacingAndGlyphs" >20</text>
<text x="633.72" y="517" font-size="11" fill="#ff0000" text-anchor="start" textLength="12.8" lengthAdjust="spacingAndGlyphs" >30</text>
<text x="677.4" y="517" font-size="11" fill="#ff0000" text-anchor="start" textLength="21" lengthAdjust="spacingAndGlyphs" >T(C)</text>
<text x="48.1" y="75.8" font-size="12" fill="#000000" text-anchor="start" textLength="19.3" lengthAdjust="spacingAndGlyphs" >100</text>
<text x="48.1" y="202.26" font-size="12" fill="#000000" text-anchor="start" textLength="19.3" lengthAdjust="spacingAndGlyphs" >200</text>
<text x="48.1" y="276.24" font-size="12" fill="#000000" text-anchor="start" textLength="19.3" lengthAdjust="spacingAndGlyphs" >300</text>
<text x="48.1" y="328.73" font-size="12" fill="#000000" text-anchor="start" textLength="19.3" lengthAdjust="spacingAndGlyphs" >400</text>
<text x="48.1" y="369.44" font-size="12" fill="#000000" text-anchor="start" textLength="19.3" lengthAdjust="spacingAndGlyphs" >500</text>
<text x="48.1" y="402.7" font-size="12" fill="#000000" text-anchor="start" textLength="19.3" lengthAdjust="spacingAndGlyphs" >600</text>
<text x="48.1" y="430.83" font-size="12" fill="#000000" text-anchor="start" textLength="19.3" lengthAdjust="spacingAndGlyphs" >700</text>
<text x="48.1" y="455.19" font-size="12" fill="#000000" text-anchor="start" textLength="19.3" lengthAdjust="spacingAndGlyphs" >800</text>
<text x="48.1" y="476.68" font-size="12" fill="#000000" text-anchor="start" textLength="19.3" lengthAdjust="spacingAndGlyphs" >900</text>
<text x="42.1" y="495.9" font-size="12" fill="#000000" text-anchor="start" textLength="25.3" lengthAdjust="spacingAndGlyphs" >1000</text>
<text transform="translate(81.9,331.9) rotate(-90)" font-size="13" fill="#000000" textLength="104.4" lengthAdjust="spacingAndGlyphs">PRESSURE (MB)</text>
<text x="117.2" y="116" font-size="17.4" fill="#ff0000" text-anchor="start" stroke="#fff" stroke-width="0.2" textLength="163.3" lengthAdjust="spacingAndGlyphs" >Ambient Air Temp</text>
<text x="118.4" y="137.6" font-size="17.4" fill="#0000ff" text-anchor="start" stroke="#fff" stroke-width="0.2" textLength="147.6" lengthAdjust="spacingAndGlyphs" >Dew Point Temp</text>
<text x="117.2" y="159.4" font-size="17.4" fill="#4b0082" text-anchor="start" stroke="#fff" stroke-width="0.2" textLength="147.2" lengthAdjust="spacingAndGlyphs" >Air Parcel Temp</text>
<text x="700.2" y="85.1" font-size="13" fill="#000000" text-anchor="start" textLength="45.6" lengthAdjust="spacingAndGlyphs" >TP:100</text>
<text x="700" y="100.76" font-size="13" fill="#000000" text-anchor="start" textLength="51.1" lengthAdjust="spacingAndGlyphs" >MW:N/A</text>
<text x="700" y="116.42" font-size="13" fill="#000000" text-anchor="start" textLength="53" lengthAdjust="spacingAndGlyphs" >FRZ:573</text>
<text x="699.5" y="132.08" font-size="13" fill="#000000" text-anchor="start" textLength="56.2" lengthAdjust="spacingAndGlyphs" >WB0:500</text>
<text x="699" y="147.74" font-size="13" fill="#000000" text-anchor="start" textLength="60.2" lengthAdjust="spacingAndGlyphs" >PW:29.77</text>
<text x="700" y="163.4" font-size="13" fill="#000000" text-anchor="start" textLength="51.7" lengthAdjust="spacingAndGlyphs" >RH:69.6</text>
<text x="699.4" y="179.06" font-size="13" fill="#000000" text-anchor="start" textLength="64.3" lengthAdjust="spacingAndGlyphs" >MAXT:29.2</text>
<text x="700" y="194.72" font-size="13" fill="#000000" text-anchor="start" textLength="53" lengthAdjust="spacingAndGlyphs" >TH:5463</text>
<text x="700" y="210.38" font-size="13" fill="#000000" text-anchor="start" textLength="48.4" lengthAdjust="spacingAndGlyphs" >L57:5.5</text>
<text x="700.2" y="226.04" font-size="13" fill="#000000" text-anchor="start" textLength="52" lengthAdjust="spacingAndGlyphs" >LCL:956</text>
<text x="702" y="241.7" font-size="13" fill="#000000" text-anchor="start" textLength="44.8" lengthAdjust="spacingAndGlyphs" >LI:−1.3</text>
<text x="702" y="257.36" font-size="13" fill="#000000" text-anchor="start" textLength="36.3" lengthAdjust="spacingAndGlyphs" >SI:4.4</text>
<text x="700.2" y="273.02" font-size="13" fill="#000000" text-anchor="start" textLength="46.9" lengthAdjust="spacingAndGlyphs" >TT:38.0</text>
<text x="702" y="288.68" font-size="13" fill="#000000" text-anchor="start" textLength="40.3" lengthAdjust="spacingAndGlyphs" >KI:300</text>
<text x="700.7" y="304.34" font-size="13" fill="#000000" text-anchor="start" textLength="48.3" lengthAdjust="spacingAndGlyphs" >SW:N/A</text>
<text x="703.4" y="320" font-size="13" fill="#000000" text-anchor="start" textLength="34.3" lengthAdjust="spacingAndGlyphs" >EI:0.2</text>
<text x="699.4" y="335.66" font-size="13" fill="#000000" text-anchor="start" textLength="68.3" lengthAdjust="spacingAndGlyphs" >−PARCEL−</text>
<text x="700.2" y="351.32" font-size="13" fill="#000000" text-anchor="start" textLength="60" lengthAdjust="spacingAndGlyphs" >CAPE:522</text>
<text x="702" y="366.98" font-size="13" fill="#000000" text-anchor="start" textLength="40.3" lengthAdjust="spacingAndGlyphs" >CINH:7</text>
<text x="700.2" y="382.64" font-size="13" fill="#000000" text-anchor="start" textLength="52" lengthAdjust="spacingAndGlyphs" >LCL:956</text>
<text x="700.7" y="398.3" font-size="13" fill="#000000" text-anchor="start" textLength="49.6" lengthAdjust="spacingAndGlyphs" >CAP:0.0</text>
<text x="700.2" y="413.96" font-size="13" fill="#000000" text-anchor="start" textLength="52" lengthAdjust="spacingAndGlyphs" >LFC:937</text>
<text x="702" y="429.62" font-size="13" fill="#000000" text-anchor="start" textLength="43" lengthAdjust="spacingAndGlyphs" >EL:217</text>
<text x="700.2" y="445.28" font-size="13" fill="#000000" text-anchor="start" textLength="54.1" lengthAdjust="spacingAndGlyphs" >MPL:125</text>
<text x="701.3" y="460.94" font-size="13" fill="#000000" text-anchor="start" textLength="50.9" lengthAdjust="spacingAndGlyphs" >−WIND−</text>
<text x="704" y="476.6" font-size="13" fill="#000000" text-anchor="start" textLength="22.7" lengthAdjust="spacingAndGlyphs" >NOT</text>
<text x="702" y="492.26" font-size="13" fill="#000000" text-anchor="start" textLength="30.9" lengthAdjust="spacingAndGlyphs" >AVAIL</text>
<text transform="translate(142.4,522.8) rotate(-45)" font-size="10.5" fill="#4b0082" text-anchor="middle" dy="0.36em" letter-spacing="0.8">0.1</text>
<text transform="translate(189,522.8) rotate(-45)" font-size="10.5" fill="#4b0082" text-anchor="middle" dy="0.36em" letter-spacing="0.8">0.2</text>
<text transform="translate(253.54,522.8) rotate(-45)" font-size="10.5" fill="#4b0082" text-anchor="middle" dy="0.36em" letter-spacing="0.8">0.5</text>
<text transform="translate(307,522.8) rotate(-45)" font-size="10.5" fill="#4b0082" text-anchor="middle" dy="0.36em" letter-spacing="0.8">1</text>
<text transform="translate(341,522.8) rotate(-45)" font-size="10.5" fill="#4b0082" text-anchor="middle" dy="0.36em" letter-spacing="0.8">1.5</text>
<text transform="translate(365.7,522.8) rotate(-45)" font-size="10.5" fill="#4b0082" text-anchor="middle" dy="0.36em" letter-spacing="0.8">2</text>
<text transform="translate(400.5,522.8) rotate(-45)" font-size="10.5" fill="#4b0082" text-anchor="middle" dy="0.36em" letter-spacing="0.8">3</text>
<text transform="translate(427.6,522.8) rotate(-45)" font-size="10.5" fill="#4b0082" text-anchor="middle" dy="0.36em" letter-spacing="0.8">4</text>
<text transform="translate(465.5,522.8) rotate(-45)" font-size="10.5" fill="#4b0082" text-anchor="middle" dy="0.36em" letter-spacing="0.8">6</text>
<text transform="translate(494,522.8) rotate(-45)" font-size="10.5" fill="#4b0082" text-anchor="middle" dy="0.36em" letter-spacing="0.8">8</text>
<text transform="translate(516.4,522.8) rotate(-45)" font-size="10.5" fill="#4b0082" text-anchor="middle" dy="0.36em" letter-spacing="0.8">10</text>
<text transform="translate(536.2,522.8) rotate(-45)" font-size="10.5" fill="#4b0082" text-anchor="middle" dy="0.36em" letter-spacing="0.8">12</text>
<text transform="translate(559,522.8) rotate(-45)" font-size="10.5" fill="#4b0082" text-anchor="middle" dy="0.36em" letter-spacing="0.8">15</text>
<text transform="translate(589.7,522.8) rotate(-45)" font-size="10.5" fill="#4b0082" text-anchor="middle" dy="0.36em" letter-spacing="0.8">20</text>
<text transform="translate(614,522.8) rotate(-45)" font-size="10.5" fill="#4b0082" text-anchor="middle" dy="0.36em" letter-spacing="0.8">25</text>
<text transform="translate(634.8,522.8) rotate(-45)" font-size="10.5" fill="#4b0082" text-anchor="middle" dy="0.36em" letter-spacing="0.8">30</text>
<text transform="translate(668,522.8) rotate(-45)" font-size="10.5" fill="#4b0082" text-anchor="middle" dy="0.36em" letter-spacing="0.8">40</text>
<text x="664" y="527" font-size="11" fill="#4b0082" text-anchor="start" textLength="44.5" lengthAdjust="spacingAndGlyphs" >w(g/kg)</text>
</g>
</svg></body></html>
